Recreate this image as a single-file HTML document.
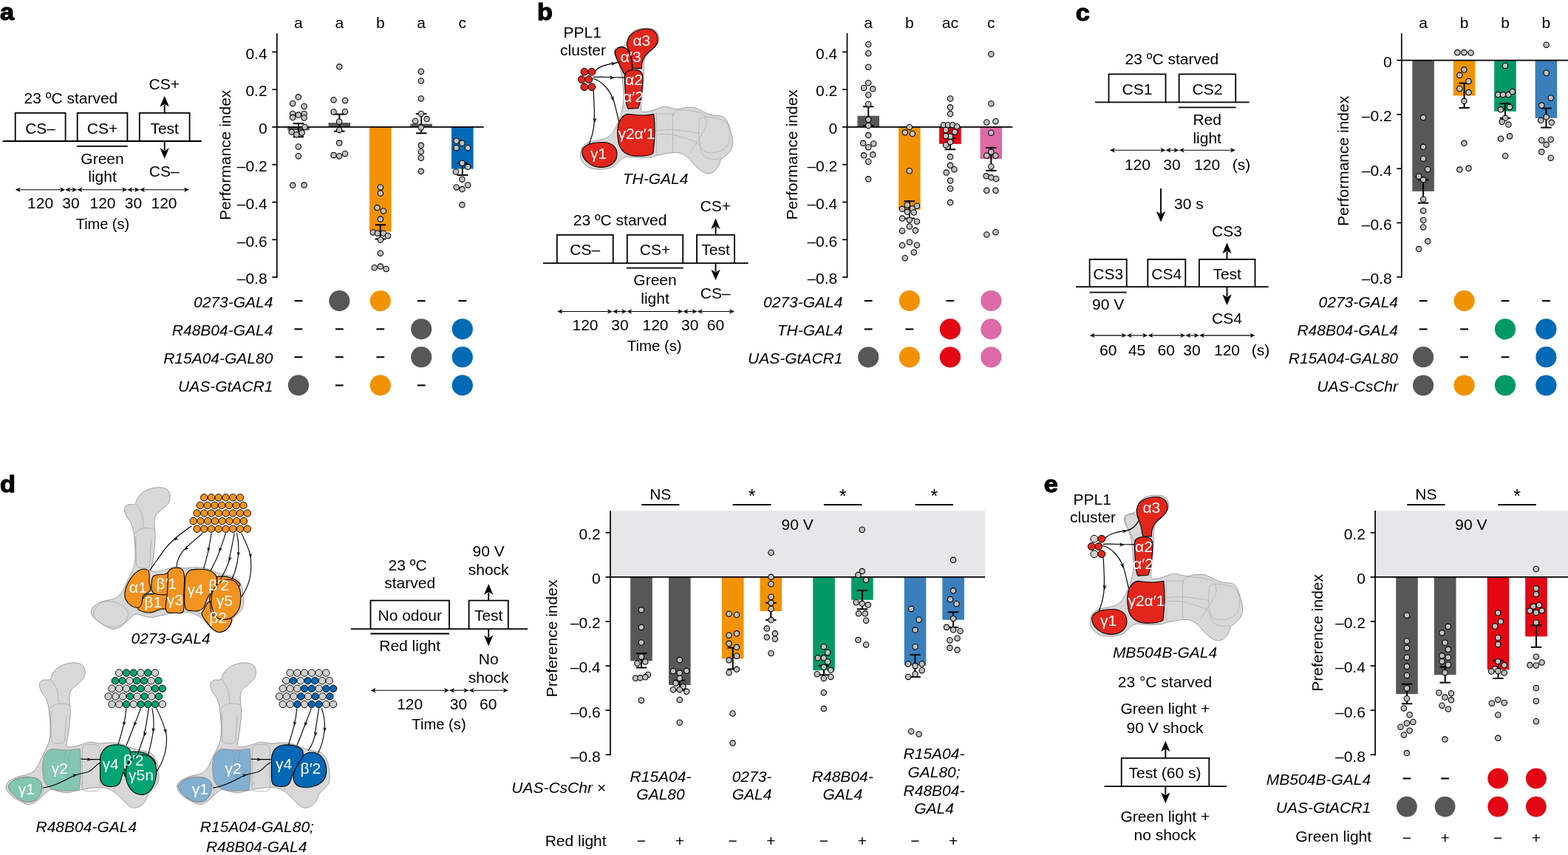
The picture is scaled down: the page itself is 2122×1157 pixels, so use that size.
<!DOCTYPE html>
<html><head><meta charset="utf-8"><title>Figure</title>
<style>
html,body{margin:0;padding:0;background:#fff;}
body{width:2122px;height:1157px;overflow:hidden;}
svg{display:block;}
svg{font-family:'Liberation Sans', Arial, Helvetica, sans-serif;font-size:21px;}
</style></head><body>
<svg width="2122" height="1157" viewBox="0 0 2122 1157">
<rect width="2122" height="1157" fill="#fff"/>
<text transform="translate(0,27.4) scale(1.07,1)" font-size="32" font-weight="bold" stroke="#000" stroke-width="1.25" stroke-linejoin="round">a</text>
<text transform="translate(727,27.4) scale(1.07,1)" font-size="32" font-weight="bold" stroke="#000" stroke-width="1.25" stroke-linejoin="round">b</text>
<text transform="translate(1455.8,27.6) scale(1.07,1)" font-size="32" font-weight="bold" stroke="#000" stroke-width="1.25" stroke-linejoin="round">c</text>
<text transform="translate(0.1,665.6) scale(1.07,1)" font-size="32" font-weight="bold" stroke="#000" stroke-width="1.25" stroke-linejoin="round">d</text>
<text transform="translate(1412.8,666) scale(1.07,1)" font-size="32" font-weight="bold" stroke="#000" stroke-width="1.25" stroke-linejoin="round">e</text>
<line x1="3.7" y1="191" x2="272.8" y2="191" stroke="#000" stroke-width="1.8"/>
<path d="M20.7,191 V152.8 H88.6 V191" fill="none" stroke="#000" stroke-width="1.8"/>
<path d="M104.7,191 V152.8 H172.4 V191" fill="none" stroke="#000" stroke-width="1.8"/>
<path d="M188.8,191 V152.8 H256.6 V191" fill="none" stroke="#000" stroke-width="1.8"/>
<line x1="104" y1="197.8" x2="172.8" y2="197.8" stroke="#000" stroke-width="1.8"/>
<text x="95.9" y="139.5" text-anchor="middle">23 ºC starved</text>
<text x="54.6" y="180.6" text-anchor="middle">CS–</text>
<text x="138.5" y="180.6" text-anchor="middle">CS+</text>
<text x="222.7" y="180.6" text-anchor="middle">Test</text>
<text x="222.3" y="120.9" text-anchor="middle">CS+</text>
<line x1="222.7" y1="152.8" x2="222.7" y2="141.4" stroke="#000" stroke-width="1.9"/>
<path d="M222.7,129.8 L216.5,144.3 L222.7,140.68 L228.9,144.3 Z" fill="#000"/>
<line x1="222.7" y1="191" x2="222.7" y2="203.2" stroke="#000" stroke-width="1.9"/>
<path d="M222.7,214.8 L216.5,200.3 L222.7,203.93 L228.9,200.3 Z" fill="#000"/>
<text x="222.3" y="239.3" text-anchor="middle">CS–</text>
<text x="138.5" y="221.7" text-anchor="middle">Green</text>
<text x="138.5" y="246" text-anchor="middle">light</text>
<line x1="23.7" y1="256.7" x2="85.2" y2="256.7" stroke="#000" stroke-width="1.1"/>
<path d="M20.7,256.7 L27.9,253.5 L25.74,256.7 L27.9,259.9 Z" fill="#000"/>
<path d="M88.2,256.7 L81,253.5 L83.16,256.7 L81,259.9 Z" fill="#000"/>
<line x1="91.2" y1="256.7" x2="101.4" y2="256.7" stroke="#000" stroke-width="1.1"/>
<path d="M88.2,256.7 L95.4,253.5 L93.24,256.7 L95.4,259.9 Z" fill="#000"/>
<path d="M104.4,256.7 L97.2,253.5 L99.36,256.7 L97.2,259.9 Z" fill="#000"/>
<line x1="107.4" y1="256.7" x2="169.2" y2="256.7" stroke="#000" stroke-width="1.1"/>
<path d="M104.4,256.7 L111.6,253.5 L109.44,256.7 L111.6,259.9 Z" fill="#000"/>
<path d="M172.2,256.7 L165,253.5 L167.16,256.7 L165,259.9 Z" fill="#000"/>
<line x1="175.2" y1="256.7" x2="186" y2="256.7" stroke="#000" stroke-width="1.1"/>
<path d="M172.2,256.7 L179.4,253.5 L177.24,256.7 L179.4,259.9 Z" fill="#000"/>
<path d="M189,256.7 L181.8,253.5 L183.96,256.7 L181.8,259.9 Z" fill="#000"/>
<line x1="192" y1="256.7" x2="253" y2="256.7" stroke="#000" stroke-width="1.1"/>
<path d="M189,256.7 L196.2,253.5 L194.04,256.7 L196.2,259.9 Z" fill="#000"/>
<path d="M256,256.7 L248.8,253.5 L250.96,256.7 L248.8,259.9 Z" fill="#000"/>
<text x="54.6" y="282.2" text-anchor="middle">120</text>
<text x="96" y="282.2" text-anchor="middle">30</text>
<text x="139" y="282.2" text-anchor="middle">120</text>
<text x="180.5" y="282.2" text-anchor="middle">30</text>
<text x="222" y="282.2" text-anchor="middle">120</text>
<text x="138.9" y="309.8" text-anchor="middle" textLength="72.4" lengthAdjust="spacingAndGlyphs">Time (s)</text>
<rect x="389.1" y="171.9" width="29.6" height="4.3" fill="#575756"/>
<rect x="444.5" y="166.1" width="29.6" height="5.8" fill="#575756"/>
<rect x="500" y="171.9" width="29.6" height="141.5" fill="#f29200"/>
<rect x="555.4" y="167.5" width="29.6" height="4.4" fill="#575756"/>
<rect x="611" y="171.9" width="29.6" height="56.6" fill="#006ab4"/>
<line x1="374.8" y1="171.9" x2="654.7" y2="171.9" stroke="#000" stroke-width="1.8"/>
<line x1="374.8" y1="45" x2="374.8" y2="375.95" stroke="#000" stroke-width="1.7"/>
<line x1="368.3" y1="70.3" x2="374.8" y2="70.3" stroke="#000" stroke-width="1.7"/>
<text x="361.6" y="79.6" text-anchor="end">0.4</text>
<line x1="368.3" y1="121.1" x2="374.8" y2="121.1" stroke="#000" stroke-width="1.7"/>
<text x="361.6" y="130.4" text-anchor="end">0.2</text>
<line x1="368.3" y1="171.9" x2="374.8" y2="171.9" stroke="#000" stroke-width="1.7"/>
<text x="361.6" y="181.2" text-anchor="end">0</text>
<line x1="368.3" y1="222.7" x2="374.8" y2="222.7" stroke="#000" stroke-width="1.7"/>
<text x="361.6" y="232" text-anchor="end">–0.2</text>
<line x1="368.3" y1="273.5" x2="374.8" y2="273.5" stroke="#000" stroke-width="1.7"/>
<text x="361.6" y="282.8" text-anchor="end">–0.4</text>
<line x1="368.3" y1="324.3" x2="374.8" y2="324.3" stroke="#000" stroke-width="1.7"/>
<text x="361.6" y="333.6" text-anchor="end">–0.6</text>
<line x1="368.3" y1="375.1" x2="374.8" y2="375.1" stroke="#000" stroke-width="1.7"/>
<text x="361.6" y="384.4" text-anchor="end">–0.8</text>
<text transform="translate(312,209.8) rotate(-90)" text-anchor="middle">Performance index</text>
<text x="403.9" y="37.8" text-anchor="middle">a</text>
<text x="459.3" y="37.8" text-anchor="middle">a</text>
<text x="514.8" y="37.8" text-anchor="middle">b</text>
<text x="570.2" y="37.8" text-anchor="middle">a</text>
<text x="625.8" y="37.8" text-anchor="middle">c</text>
<line x1="403.9" y1="167.1" x2="403.9" y2="185.2" stroke="#000" stroke-width="2"/>
<line x1="396.65" y1="167.1" x2="411.15" y2="167.1" stroke="#000" stroke-width="2"/>
<line x1="396.65" y1="185.2" x2="411.15" y2="185.2" stroke="#000" stroke-width="2"/>
<line x1="459.3" y1="154.6" x2="459.3" y2="177.6" stroke="#000" stroke-width="2"/>
<line x1="452.05" y1="154.6" x2="466.55" y2="154.6" stroke="#000" stroke-width="2"/>
<line x1="452.05" y1="177.6" x2="466.55" y2="177.6" stroke="#000" stroke-width="2"/>
<line x1="514.8" y1="304.3" x2="514.8" y2="323.5" stroke="#000" stroke-width="2"/>
<line x1="507.55" y1="304.3" x2="522.05" y2="304.3" stroke="#000" stroke-width="2"/>
<line x1="507.55" y1="323.5" x2="522.05" y2="323.5" stroke="#000" stroke-width="2"/>
<line x1="570.2" y1="154" x2="570.2" y2="180.3" stroke="#000" stroke-width="2"/>
<line x1="562.95" y1="154" x2="577.45" y2="154" stroke="#000" stroke-width="2"/>
<line x1="562.95" y1="180.3" x2="577.45" y2="180.3" stroke="#000" stroke-width="2"/>
<line x1="625.8" y1="220.7" x2="625.8" y2="236.9" stroke="#000" stroke-width="2"/>
<line x1="618.55" y1="220.7" x2="633.05" y2="220.7" stroke="#000" stroke-width="2"/>
<line x1="618.55" y1="236.9" x2="633.05" y2="236.9" stroke="#000" stroke-width="2"/>
<circle cx="403.79" cy="131.29" r="3.7" fill="#c0c0c0" stroke="#000" stroke-width="1.1"/>
<circle cx="396.15" cy="139.95" r="3.7" fill="#c0c0c0" stroke="#000" stroke-width="1.1"/>
<circle cx="411.57" cy="143.92" r="3.7" fill="#c0c0c0" stroke="#000" stroke-width="1.1"/>
<circle cx="396.15" cy="153.91" r="3.7" fill="#c0c0c0" stroke="#000" stroke-width="1.1"/>
<circle cx="403.79" cy="155.53" r="3.7" fill="#c0c0c0" stroke="#000" stroke-width="1.1"/>
<circle cx="411.57" cy="153.91" r="3.7" fill="#c0c0c0" stroke="#000" stroke-width="1.1"/>
<circle cx="396.15" cy="159.05" r="3.7" fill="#c0c0c0" stroke="#000" stroke-width="1.1"/>
<circle cx="411.57" cy="159.49" r="3.7" fill="#c0c0c0" stroke="#000" stroke-width="1.1"/>
<circle cx="412.6" cy="171.98" r="3.7" fill="#c0c0c0" stroke="#000" stroke-width="1.1"/>
<circle cx="394.68" cy="178.59" r="3.7" fill="#c0c0c0" stroke="#000" stroke-width="1.1"/>
<circle cx="401.29" cy="182.26" r="3.7" fill="#c0c0c0" stroke="#000" stroke-width="1.1"/>
<circle cx="408.63" cy="179.62" r="3.7" fill="#c0c0c0" stroke="#000" stroke-width="1.1"/>
<circle cx="403.79" cy="198.42" r="3.7" fill="#c0c0c0" stroke="#000" stroke-width="1.1"/>
<circle cx="403.79" cy="211.2" r="3.7" fill="#c0c0c0" stroke="#000" stroke-width="1.1"/>
<circle cx="396.15" cy="250.86" r="3.7" fill="#c0c0c0" stroke="#000" stroke-width="1.1"/>
<circle cx="411.57" cy="250.56" r="3.7" fill="#c0c0c0" stroke="#000" stroke-width="1.1"/>
<circle cx="451.53" cy="135.25" r="3.7" fill="#c0c0c0" stroke="#000" stroke-width="1.1"/>
<circle cx="466.95" cy="135.99" r="3.7" fill="#c0c0c0" stroke="#000" stroke-width="1.1"/>
<circle cx="451.53" cy="151.41" r="3.7" fill="#c0c0c0" stroke="#000" stroke-width="1.1"/>
<circle cx="466.95" cy="150.97" r="3.7" fill="#c0c0c0" stroke="#000" stroke-width="1.1"/>
<circle cx="459.16" cy="164.63" r="3.7" fill="#c0c0c0" stroke="#000" stroke-width="1.1"/>
<circle cx="459.16" cy="175.94" r="3.7" fill="#c0c0c0" stroke="#000" stroke-width="1.1"/>
<circle cx="459.16" cy="193.57" r="3.7" fill="#c0c0c0" stroke="#000" stroke-width="1.1"/>
<circle cx="451.53" cy="209.88" r="3.7" fill="#c0c0c0" stroke="#000" stroke-width="1.1"/>
<circle cx="459.16" cy="211.2" r="3.7" fill="#c0c0c0" stroke="#000" stroke-width="1.1"/>
<circle cx="466.95" cy="207.97" r="3.7" fill="#c0c0c0" stroke="#000" stroke-width="1.1"/>
<circle cx="459.28" cy="90.31" r="3.7" fill="#c0c0c0" stroke="#000" stroke-width="1.1"/>
<circle cx="514.88" cy="253.41" r="3.7" fill="#c0c0c0" stroke="#000" stroke-width="1.1"/>
<circle cx="514.88" cy="261.5" r="3.7" fill="#c0c0c0" stroke="#000" stroke-width="1.1"/>
<circle cx="510.5" cy="281.04" r="3.7" fill="#c0c0c0" stroke="#000" stroke-width="1.1"/>
<circle cx="518.92" cy="285.43" r="3.7" fill="#c0c0c0" stroke="#000" stroke-width="1.1"/>
<circle cx="514.88" cy="296.55" r="3.7" fill="#c0c0c0" stroke="#000" stroke-width="1.1"/>
<circle cx="504.77" cy="314.41" r="3.7" fill="#c0c0c0" stroke="#000" stroke-width="1.1"/>
<circle cx="510.83" cy="315.75" r="3.7" fill="#c0c0c0" stroke="#000" stroke-width="1.1"/>
<circle cx="518.92" cy="315.75" r="3.7" fill="#c0c0c0" stroke="#000" stroke-width="1.1"/>
<circle cx="524.99" cy="319.12" r="3.7" fill="#c0c0c0" stroke="#000" stroke-width="1.1"/>
<circle cx="514.88" cy="324.52" r="3.7" fill="#c0c0c0" stroke="#000" stroke-width="1.1"/>
<circle cx="514.88" cy="342.71" r="3.7" fill="#c0c0c0" stroke="#000" stroke-width="1.1"/>
<circle cx="506.79" cy="362.26" r="3.7" fill="#c0c0c0" stroke="#000" stroke-width="1.1"/>
<circle cx="514.88" cy="360.57" r="3.7" fill="#c0c0c0" stroke="#000" stroke-width="1.1"/>
<circle cx="522.63" cy="363.94" r="3.7" fill="#c0c0c0" stroke="#000" stroke-width="1.1"/>
<circle cx="569.81" cy="96.71" r="3.7" fill="#c0c0c0" stroke="#000" stroke-width="1.1"/>
<circle cx="569.81" cy="109.52" r="3.7" fill="#c0c0c0" stroke="#000" stroke-width="1.1"/>
<circle cx="569.81" cy="133.45" r="3.7" fill="#c0c0c0" stroke="#000" stroke-width="1.1"/>
<circle cx="569.81" cy="154" r="3.7" fill="#c0c0c0" stroke="#000" stroke-width="1.1"/>
<circle cx="562.06" cy="163.77" r="3.7" fill="#c0c0c0" stroke="#000" stroke-width="1.1"/>
<circle cx="577.56" cy="161.08" r="3.7" fill="#c0c0c0" stroke="#000" stroke-width="1.1"/>
<circle cx="569.81" cy="172.54" r="3.7" fill="#c0c0c0" stroke="#000" stroke-width="1.1"/>
<circle cx="569.81" cy="196.8" r="3.7" fill="#c0c0c0" stroke="#000" stroke-width="1.1"/>
<circle cx="569.81" cy="205.22" r="3.7" fill="#c0c0c0" stroke="#000" stroke-width="1.1"/>
<circle cx="569.81" cy="213.65" r="3.7" fill="#c0c0c0" stroke="#000" stroke-width="1.1"/>
<circle cx="569.81" cy="231.84" r="3.7" fill="#c0c0c0" stroke="#000" stroke-width="1.1"/>
<circle cx="617.66" cy="190.73" r="3.7" fill="#c0c0c0" stroke="#000" stroke-width="1.1"/>
<circle cx="625.41" cy="193.77" r="3.7" fill="#c0c0c0" stroke="#000" stroke-width="1.1"/>
<circle cx="617.66" cy="200.17" r="3.7" fill="#c0c0c0" stroke="#000" stroke-width="1.1"/>
<circle cx="633.16" cy="200.17" r="3.7" fill="#c0c0c0" stroke="#000" stroke-width="1.1"/>
<circle cx="625.41" cy="220.72" r="3.7" fill="#c0c0c0" stroke="#000" stroke-width="1.1"/>
<circle cx="633.16" cy="225.78" r="3.7" fill="#c0c0c0" stroke="#000" stroke-width="1.1"/>
<circle cx="616.98" cy="232.52" r="3.7" fill="#c0c0c0" stroke="#000" stroke-width="1.1"/>
<circle cx="625.41" cy="242.63" r="3.7" fill="#c0c0c0" stroke="#000" stroke-width="1.1"/>
<circle cx="633.16" cy="250.38" r="3.7" fill="#c0c0c0" stroke="#000" stroke-width="1.1"/>
<circle cx="617.66" cy="253.41" r="3.7" fill="#c0c0c0" stroke="#000" stroke-width="1.1"/>
<circle cx="625.41" cy="256.11" r="3.7" fill="#c0c0c0" stroke="#000" stroke-width="1.1"/>
<circle cx="625.41" cy="277.34" r="3.7" fill="#c0c0c0" stroke="#000" stroke-width="1.1"/>
<text x="369.4" y="415.7" text-anchor="end" font-style="italic">0273-GAL4</text>
<rect x="398.5" y="406.1" width="10.8" height="2.1" fill="#000"/>
<circle cx="459.3" cy="407.1" r="14.1" fill="#575756"/>
<circle cx="514.8" cy="407.1" r="14.1" fill="#f29200"/>
<rect x="564.8" y="406.1" width="10.8" height="2.1" fill="#000"/>
<rect x="620.4" y="406.1" width="10.8" height="2.1" fill="#000"/>
<text x="369.4" y="453.9" text-anchor="end" font-style="italic">R48B04-GAL4</text>
<rect x="398.5" y="444.3" width="10.8" height="2.1" fill="#000"/>
<rect x="453.9" y="444.3" width="10.8" height="2.1" fill="#000"/>
<rect x="509.4" y="444.3" width="10.8" height="2.1" fill="#000"/>
<circle cx="570.2" cy="445.3" r="14.1" fill="#575756"/>
<circle cx="625.8" cy="445.3" r="14.1" fill="#006ab4"/>
<text x="369.4" y="491.8" text-anchor="end" font-style="italic">R15A04-GAL80</text>
<rect x="398.5" y="482.2" width="10.8" height="2.1" fill="#000"/>
<rect x="453.9" y="482.2" width="10.8" height="2.1" fill="#000"/>
<rect x="509.4" y="482.2" width="10.8" height="2.1" fill="#000"/>
<circle cx="570.2" cy="483.2" r="14.1" fill="#575756"/>
<circle cx="625.8" cy="483.2" r="14.1" fill="#006ab4"/>
<text x="369.4" y="530" text-anchor="end" font-style="italic">UAS-GtACR1</text>
<circle cx="403.9" cy="521.4" r="14.1" fill="#575756"/>
<rect x="453.9" y="520.4" width="10.8" height="2.1" fill="#000"/>
<circle cx="514.8" cy="521.4" r="14.1" fill="#f29200"/>
<rect x="564.8" y="520.4" width="10.8" height="2.1" fill="#000"/>
<circle cx="625.8" cy="521.4" r="14.1" fill="#006ab4"/>
<g transform="translate(770,30) scale(0.18153)">
<path d="M432,150 C437.33,137.5 440.67,110.33 452,95 C463.33,79.67 480.33,66.33 500,58 C519.67,49.67 547.5,45.5 570,45 C592.5,44.5 618.67,45.83 635,55 C651.33,64.17 663.17,84.17 668,100 C672.83,115.83 669.5,135 664,150 C658.5,165 646.5,177.5 635,190 C623.5,202.5 605.83,213.33 595,225 C584.17,236.67 576.17,245.83 570,260 C563.83,274.17 560,291.67 558,310 C556,328.33 558.33,348.33 558,370 C557.67,391.67 557.33,416.67 556,440 C554.67,463.33 552.17,488.33 550,510 C547.83,531.67 545,550 543,570 C541,590 537.67,613.67 538,630 C538.33,646.33 533.67,662.5 545,668 C556.33,673.5 587.17,666.83 606,663 C624.83,659.17 640.5,650.67 658,645 C675.5,639.33 693.5,629.83 711,629 C728.5,628.17 745.67,636.83 763,640 C780.33,643.17 797.5,648.5 815,648 C832.5,647.5 848.67,638.83 868,637 C887.33,635.17 913.5,634.33 931,637 C948.5,639.67 957.33,646 973,653 C988.67,660 1007.67,672 1025,679 C1042.33,686 1059.5,691.5 1077,695 C1094.5,698.5 1116,697 1130,700 C1144,703 1152.33,705.5 1161,713 C1169.67,720.5 1175,730.17 1182,745 C1189,759.83 1196.83,782 1203,802 C1209.17,822 1216.33,845.67 1219,865 C1221.67,884.33 1222.5,901.33 1219,918 C1215.5,934.67 1207.67,951.17 1198,965 C1188.33,978.83 1172,991 1161,1001 C1150,1011 1138.5,1015.5 1132,1025 C1125.5,1034.5 1127.67,1046.17 1122,1058 C1116.33,1069.83 1107.17,1085.33 1098,1096 C1088.83,1106.67 1079.17,1116.83 1067,1122 C1054.83,1127.17 1039,1129.67 1025,1127 C1011,1124.33 997,1115.5 983,1106 C969,1096.5 955,1084 941,1070 C927,1056 913,1035.67 899,1022 C885,1008.33 872.67,996.33 857,988 C841.33,979.67 825,973.83 805,972 C785,970.17 761.5,973.5 737,977 C712.5,980.5 679.83,988 658,993 C636.17,998 625.67,1004.17 606,1007 C586.33,1009.83 562.67,1010.17 540,1010 C517.33,1009.83 488.33,1007 470,1006 C451.67,1005 442.5,1002.17 430,1004 C417.5,1005.83 405.83,1009.83 395,1017 C384.17,1024.17 377.5,1036.17 365,1047 C352.5,1057.83 340.83,1073.67 320,1082 C299.17,1090.33 266.67,1096.17 240,1097 C213.33,1097.83 182.5,1095.33 160,1087 C137.5,1078.67 117.5,1063.17 105,1047 C92.5,1030.83 85.83,1009.5 85,990 C84.17,970.5 89.17,945.83 100,930 C110.83,914.17 128.33,903.67 150,895 C171.67,886.33 207.5,883.83 230,878 C252.5,872.17 269.17,868.83 285,860 C300.83,851.17 313.33,840 325,825 C336.67,810 345.83,789.17 355,770 C364.17,750.83 372.83,730 380,710 C387.17,690 393.5,671.67 398,650 C402.5,628.33 405.83,605 407,580 C408.17,555 406.5,526.67 405,500 C403.5,473.33 401.33,445 398,420 C394.67,395 391,371.67 385,350 C379,328.33 369.5,308.33 362,290 C354.5,271.67 342.83,255.33 340,240 C337.17,224.67 336.67,208 345,198 C353.33,188 377.5,184.67 390,180 C402.5,175.33 413,175 420,170 C427,165 426.67,162.5 432,150 Z" fill="#d8d8d8" stroke="#9b9b9b" stroke-width="5.5"/>
<path d="M653,684 L773,684" fill="none" stroke="#b0b0b0" stroke-width="4.5"/>
<path d="M773,676 C775,760 775,880 773,970" fill="none" stroke="#b0b0b0" stroke-width="4.5"/>
<path d="M653,672 C650,760 650,900 655,988" fill="none" stroke="#b0b0b0" stroke-width="4.5"/>
<path d="M779,700 C780.83,694.17 781.5,672.5 790,665 C798.5,657.5 808.33,655.5 830,655 C851.67,654.5 893.33,657.83 920,662 C946.67,666.17 974.33,672.33 990,680 C1005.67,687.67 1008.17,694.67 1014,708 C1019.83,721.33 1026.67,742.5 1025,760 C1023.33,777.5 1012.83,795.5 1004,813 C995.17,830.5 982.5,847.67 972,865 C961.5,882.33 952.17,899.17 941,917 C929.83,934.83 911,962.83 905,972" fill="none" stroke="#b0b0b0" stroke-width="4.5"/>
<path d="M972.7,723.8 C981.42,721.17 998.78,708 1025,708 C1051.22,708 1103.83,715.07 1130,723.8 C1156.17,732.53 1170.67,741.2 1182,760.4 C1193.33,779.6 1198,812.8 1198,839 C1198,865.2 1193.33,897.52 1182,917.6 C1170.67,937.68 1151.83,949.93 1130,959.5 C1108.17,969.07 1073.73,976.75 1051,975 C1028.27,973.25 1006.65,962.93 993.6,949 C980.55,935.07 977.05,914.1 972.7,891.4 C968.35,868.7 967.5,840.73 967.5,812.8 C967.5,784.87 971.83,738.63 972.7,723.8" fill="none" stroke="#b0b0b0" stroke-width="4.5"/>
<path d="M653,807.6 C671.33,806.67 727.17,801.13 763,802 C798.83,802.87 833.05,808.38 868,812.8 C902.95,817.22 955.25,825.88 972.7,828.5" fill="none" stroke="#b0b0b0" stroke-width="4.5"/>
<path d="M653,836.4 C662.67,835.97 690,833.37 711,833.8 C732,834.23 752.83,833.8 779,839 C805.17,844.2 840.08,856.27 868,865 C895.92,873.73 933.42,887 946.5,891.4" fill="none" stroke="#b0b0b0" stroke-width="4.5"/>
<path d="M946.5,891.4 C950.87,895.77 963.12,900.17 972.7,917.6 C982.28,935.03 986.62,978.6 1004,996 C1021.38,1013.4 1056,1018.5 1077,1022 C1098,1025.5 1121.17,1017.83 1130,1017" fill="none" stroke="#b0b0b0" stroke-width="4.5"/>
<path d="M432,165 C435,95 495,55 570,50 C640,48 668,90 660,148 C652,190 595,215 568,250 C548,280 540,310 542,345 L476,345 C472,300 465,260 450,220 C440,200 432,185 432,165 Z" fill="#e2261c" stroke="#000" stroke-width="6"/>
<path d="M345,240 C335,200 375,178 410,188 C445,200 462,250 468,300 L474,368 C450,375 430,380 410,385 C390,340 360,290 345,240 Z" fill="#e2261c" stroke="#000" stroke-width="6"/>
<path d="M415,400 C418,368 450,355 490,355 C530,353 552,375 550,420 C548,470 545,520 538,560 C530,600 522,630 515,642 L440,645 C425,610 420,570 420,530 C418,480 414,440 415,400 Z" fill="#e2261c" stroke="#000" stroke-width="6"/>
<path d="M362,810 C365,740 395,692 440,685 C490,690 540,700 590,692 L632,685 C642,760 642,860 628,975 C610,995 560,1000 500,998 C430,995 385,960 370,900 C364,870 361,840 362,810 Z" fill="#e2261c" stroke="#000" stroke-width="6"/>
<path d="M98,960 C105,915 175,895 250,895 C325,895 362,935 357,995 C350,1055 295,1085 232,1082 C155,1078 92,1015 98,960 Z" fill="#e2261c" stroke="#000" stroke-width="6"/>
<path d="M195,365 C230,320 300,312 378,298" fill="none" stroke="#000" stroke-width="6.5"/>
<path d="M352,304 L317.01,324.39 L325.06,308.75 L312.15,296.81 Z" fill="#000"/>
<path d="M180,410 C250,405 330,414 415,412" fill="none" stroke="#000" stroke-width="6.5"/>
<path d="M340,414 L301.53,426.67 L312.66,413.05 L302.51,398.68 Z" fill="#000"/>
<path d="M178,420 C255,440 315,520 338,600 C352,650 362,700 372,742" fill="none" stroke="#000" stroke-width="6.5"/>
<path d="M332,590 L306.94,558.19 L323.55,563.98 L333.57,549.53 Z" fill="#000"/>
<path d="M182,505 C188,600 195,700 185,780 C175,850 160,880 150,910" fill="none" stroke="#000" stroke-width="6.5"/>
<path d="M190,752 L179.37,712.92 L192.38,724.74 L207.26,715.36 Z" fill="#000"/>
<circle cx="115" cy="370" r="27" fill="#e2261c" stroke="#000" stroke-width="5.5"/>
<circle cx="170" cy="370" r="27" fill="#e2261c" stroke="#000" stroke-width="5.5"/>
<circle cx="95" cy="427" r="27" fill="#e2261c" stroke="#000" stroke-width="5.5"/>
<circle cx="148" cy="427" r="27" fill="#e2261c" stroke="#000" stroke-width="5.5"/>
<circle cx="115" cy="483" r="27" fill="#e2261c" stroke="#000" stroke-width="5.5"/>
<circle cx="170" cy="483" r="27" fill="#e2261c" stroke="#000" stroke-width="5.5"/>
</g>
<text x="868.3" y="62.3" text-anchor="middle" fill="#fff">α3</text>
<text x="853.7" y="83.6" text-anchor="middle" fill="#fff">α′3</text>
<text x="858" y="115.3" text-anchor="middle" fill="#fff">α2</text>
<text x="857" y="138" text-anchor="middle" fill="#fff">α′2</text>
<text x="861.4" y="188" text-anchor="middle" fill="#fff">γ2α′1</text>
<text x="810" y="215.2" text-anchor="middle" fill="#fff">γ1</text>
<text x="788.3" y="51.4" text-anchor="middle">PPL1</text>
<text x="789" y="75.2" text-anchor="middle">cluster</text>
<text x="887" y="249.4" text-anchor="middle" font-style="italic">TH-GAL4</text>
<line x1="734.9" y1="356.1" x2="1012.6" y2="356.1" stroke="#000" stroke-width="1.8"/>
<path d="M753.8,356.1 V317.9 H829.7 V356.1" fill="none" stroke="#000" stroke-width="1.8"/>
<path d="M848.8,356.1 V317.9 H924.2 V356.1" fill="none" stroke="#000" stroke-width="1.8"/>
<path d="M943,356.1 V317.9 H994 V356.1" fill="none" stroke="#000" stroke-width="1.8"/>
<line x1="847.8" y1="362.6" x2="924.8" y2="362.6" stroke="#000" stroke-width="1.8"/>
<text x="839.1" y="304.8" text-anchor="middle">23 ºC starved</text>
<text x="968.3" y="285.5" text-anchor="middle">CS+</text>
<line x1="968.5" y1="317.9" x2="968.5" y2="307" stroke="#000" stroke-width="1.9"/>
<path d="M968.5,295.4 L962.3,309.9 L968.5,306.27 L974.7,309.9 Z" fill="#000"/>
<text x="791.8" y="345.1" text-anchor="middle">CS–</text>
<text x="886.5" y="345.1" text-anchor="middle">CS+</text>
<text x="968.5" y="345.1" text-anchor="middle">Test</text>
<line x1="968.5" y1="356.1" x2="968.5" y2="367.7" stroke="#000" stroke-width="1.9"/>
<path d="M968.5,379.3 L962.3,364.8 L968.5,368.43 L974.7,364.8 Z" fill="#000"/>
<text x="886.5" y="385.9" text-anchor="middle">Green</text>
<text x="886.5" y="411.2" text-anchor="middle">light</text>
<text x="968.3" y="403.8" text-anchor="middle">CS–</text>
<line x1="757.2" y1="421.5" x2="826" y2="421.5" stroke="#000" stroke-width="1.1"/>
<path d="M754.2,421.5 L761.4,418.3 L759.24,421.5 L761.4,424.7 Z" fill="#000"/>
<path d="M829,421.5 L821.8,418.3 L823.96,421.5 L821.8,424.7 Z" fill="#000"/>
<line x1="832" y1="421.5" x2="845.2" y2="421.5" stroke="#000" stroke-width="1.1"/>
<path d="M829,421.5 L836.2,418.3 L834.04,421.5 L836.2,424.7 Z" fill="#000"/>
<path d="M848.2,421.5 L841,418.3 L843.16,421.5 L841,424.7 Z" fill="#000"/>
<line x1="851.2" y1="421.5" x2="921.2" y2="421.5" stroke="#000" stroke-width="1.1"/>
<path d="M848.2,421.5 L855.4,418.3 L853.24,421.5 L855.4,424.7 Z" fill="#000"/>
<path d="M924.2,421.5 L917,418.3 L919.16,421.5 L917,424.7 Z" fill="#000"/>
<line x1="927.2" y1="421.5" x2="940.7" y2="421.5" stroke="#000" stroke-width="1.1"/>
<path d="M924.2,421.5 L931.4,418.3 L929.24,421.5 L931.4,424.7 Z" fill="#000"/>
<path d="M943.7,421.5 L936.5,418.3 L938.66,421.5 L936.5,424.7 Z" fill="#000"/>
<line x1="946.7" y1="421.5" x2="991" y2="421.5" stroke="#000" stroke-width="1.1"/>
<path d="M943.7,421.5 L950.9,418.3 L948.74,421.5 L950.9,424.7 Z" fill="#000"/>
<path d="M994,421.5 L986.8,418.3 L988.96,421.5 L986.8,424.7 Z" fill="#000"/>
<text x="792" y="447" text-anchor="middle">120</text>
<text x="838.9" y="447" text-anchor="middle">30</text>
<text x="887" y="447" text-anchor="middle">120</text>
<text x="933.7" y="447" text-anchor="middle">30</text>
<text x="968.5" y="447" text-anchor="middle">60</text>
<text x="885.7" y="474.8" text-anchor="middle" textLength="73.9" lengthAdjust="spacingAndGlyphs">Time (s)</text>
<rect x="1160.4" y="156.7" width="29.6" height="15.2" fill="#575756"/>
<rect x="1216" y="171.9" width="29.6" height="111.9" fill="#f29200"/>
<rect x="1271.1" y="171.9" width="29.6" height="22.9" fill="#e30613"/>
<rect x="1326.5" y="171.9" width="29.6" height="43.1" fill="#dc6ba6"/>
<line x1="1146.5" y1="171.9" x2="1370.3" y2="171.9" stroke="#000" stroke-width="1.8"/>
<line x1="1146.5" y1="45" x2="1146.5" y2="375.95" stroke="#000" stroke-width="1.7"/>
<line x1="1140" y1="70.3" x2="1146.5" y2="70.3" stroke="#000" stroke-width="1.7"/>
<text x="1133.3" y="79.6" text-anchor="end">0.4</text>
<line x1="1140" y1="121.1" x2="1146.5" y2="121.1" stroke="#000" stroke-width="1.7"/>
<text x="1133.3" y="130.4" text-anchor="end">0.2</text>
<line x1="1140" y1="171.9" x2="1146.5" y2="171.9" stroke="#000" stroke-width="1.7"/>
<text x="1133.3" y="181.2" text-anchor="end">0</text>
<line x1="1140" y1="222.7" x2="1146.5" y2="222.7" stroke="#000" stroke-width="1.7"/>
<text x="1133.3" y="232" text-anchor="end">–0.2</text>
<line x1="1140" y1="273.5" x2="1146.5" y2="273.5" stroke="#000" stroke-width="1.7"/>
<text x="1133.3" y="282.8" text-anchor="end">–0.4</text>
<line x1="1140" y1="324.3" x2="1146.5" y2="324.3" stroke="#000" stroke-width="1.7"/>
<text x="1133.3" y="333.6" text-anchor="end">–0.6</text>
<line x1="1140" y1="375.1" x2="1146.5" y2="375.1" stroke="#000" stroke-width="1.7"/>
<text x="1133.3" y="384.4" text-anchor="end">–0.8</text>
<text transform="translate(1078.8,209.3) rotate(-90)" text-anchor="middle">Performance index</text>
<text x="1175.2" y="37.8" text-anchor="middle">a</text>
<text x="1230.8" y="37.8" text-anchor="middle">b</text>
<text x="1285.9" y="37.8" text-anchor="middle">ac</text>
<text x="1341.3" y="37.8" text-anchor="middle">c</text>
<line x1="1175.2" y1="144.3" x2="1175.2" y2="170" stroke="#000" stroke-width="2"/>
<line x1="1167.95" y1="144.3" x2="1182.45" y2="144.3" stroke="#000" stroke-width="2"/>
<line x1="1167.95" y1="170" x2="1182.45" y2="170" stroke="#000" stroke-width="2"/>
<line x1="1230.8" y1="272.3" x2="1230.8" y2="295.6" stroke="#000" stroke-width="2"/>
<line x1="1223.55" y1="272.3" x2="1238.05" y2="272.3" stroke="#000" stroke-width="2"/>
<line x1="1223.55" y1="295.6" x2="1238.05" y2="295.6" stroke="#000" stroke-width="2"/>
<line x1="1285.9" y1="187.1" x2="1285.9" y2="202.2" stroke="#000" stroke-width="2"/>
<line x1="1278.65" y1="187.1" x2="1293.15" y2="187.1" stroke="#000" stroke-width="2"/>
<line x1="1278.65" y1="202.2" x2="1293.15" y2="202.2" stroke="#000" stroke-width="2"/>
<line x1="1341.3" y1="199.9" x2="1341.3" y2="230.9" stroke="#000" stroke-width="2"/>
<line x1="1334.05" y1="199.9" x2="1348.55" y2="199.9" stroke="#000" stroke-width="2"/>
<line x1="1334.05" y1="230.9" x2="1348.55" y2="230.9" stroke="#000" stroke-width="2"/>
<circle cx="1175.17" cy="60" r="3.7" fill="#c0c0c0" stroke="#000" stroke-width="1.1"/>
<circle cx="1175.17" cy="72.13" r="3.7" fill="#c0c0c0" stroke="#000" stroke-width="1.1"/>
<circle cx="1175.17" cy="90.67" r="3.7" fill="#c0c0c0" stroke="#000" stroke-width="1.1"/>
<circle cx="1175.17" cy="112.25" r="3.7" fill="#c0c0c0" stroke="#000" stroke-width="1.1"/>
<circle cx="1169.1" cy="118.99" r="3.7" fill="#c0c0c0" stroke="#000" stroke-width="1.1"/>
<circle cx="1181.23" cy="120.34" r="3.7" fill="#c0c0c0" stroke="#000" stroke-width="1.1"/>
<circle cx="1175.17" cy="128.43" r="3.7" fill="#c0c0c0" stroke="#000" stroke-width="1.1"/>
<circle cx="1175.17" cy="140.9" r="3.7" fill="#c0c0c0" stroke="#000" stroke-width="1.1"/>
<circle cx="1175.17" cy="161.8" r="3.7" fill="#c0c0c0" stroke="#000" stroke-width="1.1"/>
<circle cx="1175.17" cy="169.89" r="3.7" fill="#c0c0c0" stroke="#000" stroke-width="1.1"/>
<circle cx="1175.17" cy="183.03" r="3.7" fill="#c0c0c0" stroke="#000" stroke-width="1.1"/>
<circle cx="1168.09" cy="193.82" r="3.7" fill="#c0c0c0" stroke="#000" stroke-width="1.1"/>
<circle cx="1182.25" cy="194.49" r="3.7" fill="#c0c0c0" stroke="#000" stroke-width="1.1"/>
<circle cx="1175.17" cy="199.21" r="3.7" fill="#c0c0c0" stroke="#000" stroke-width="1.1"/>
<circle cx="1169.1" cy="210.33" r="3.7" fill="#c0c0c0" stroke="#000" stroke-width="1.1"/>
<circle cx="1181.23" cy="209.32" r="3.7" fill="#c0c0c0" stroke="#000" stroke-width="1.1"/>
<circle cx="1175.17" cy="218.76" r="3.7" fill="#c0c0c0" stroke="#000" stroke-width="1.1"/>
<circle cx="1175.17" cy="242.36" r="3.7" fill="#c0c0c0" stroke="#000" stroke-width="1.1"/>
<circle cx="1230.78" cy="171.91" r="3.7" fill="#c0c0c0" stroke="#000" stroke-width="1.1"/>
<circle cx="1224.72" cy="179.32" r="3.7" fill="#c0c0c0" stroke="#000" stroke-width="1.1"/>
<circle cx="1234.83" cy="181.01" r="3.7" fill="#c0c0c0" stroke="#000" stroke-width="1.1"/>
<circle cx="1230.78" cy="231.23" r="3.7" fill="#c0c0c0" stroke="#000" stroke-width="1.1"/>
<circle cx="1227.75" cy="277.41" r="3.7" fill="#c0c0c0" stroke="#000" stroke-width="1.1"/>
<circle cx="1234.83" cy="282.13" r="3.7" fill="#c0c0c0" stroke="#000" stroke-width="1.1"/>
<circle cx="1240.9" cy="278.76" r="3.7" fill="#c0c0c0" stroke="#000" stroke-width="1.1"/>
<circle cx="1221.01" cy="282.81" r="3.7" fill="#c0c0c0" stroke="#000" stroke-width="1.1"/>
<circle cx="1227.75" cy="286.85" r="3.7" fill="#c0c0c0" stroke="#000" stroke-width="1.1"/>
<circle cx="1236.85" cy="287.52" r="3.7" fill="#c0c0c0" stroke="#000" stroke-width="1.1"/>
<circle cx="1221.01" cy="295.61" r="3.7" fill="#c0c0c0" stroke="#000" stroke-width="1.1"/>
<circle cx="1230.78" cy="297.64" r="3.7" fill="#c0c0c0" stroke="#000" stroke-width="1.1"/>
<circle cx="1240.9" cy="299.66" r="3.7" fill="#c0c0c0" stroke="#000" stroke-width="1.1"/>
<circle cx="1230.78" cy="306.4" r="3.7" fill="#c0c0c0" stroke="#000" stroke-width="1.1"/>
<circle cx="1221.01" cy="312.47" r="3.7" fill="#c0c0c0" stroke="#000" stroke-width="1.1"/>
<circle cx="1238.87" cy="311.79" r="3.7" fill="#c0c0c0" stroke="#000" stroke-width="1.1"/>
<circle cx="1221.01" cy="332.02" r="3.7" fill="#c0c0c0" stroke="#000" stroke-width="1.1"/>
<circle cx="1230.78" cy="327.64" r="3.7" fill="#c0c0c0" stroke="#000" stroke-width="1.1"/>
<circle cx="1240.9" cy="331.68" r="3.7" fill="#c0c0c0" stroke="#000" stroke-width="1.1"/>
<circle cx="1236.85" cy="341.46" r="3.7" fill="#c0c0c0" stroke="#000" stroke-width="1.1"/>
<circle cx="1224.72" cy="349.21" r="3.7" fill="#c0c0c0" stroke="#000" stroke-width="1.1"/>
<circle cx="1286.06" cy="133.48" r="3.7" fill="#c0c0c0" stroke="#000" stroke-width="1.1"/>
<circle cx="1286.06" cy="145.28" r="3.7" fill="#c0c0c0" stroke="#000" stroke-width="1.1"/>
<circle cx="1286.06" cy="154.04" r="3.7" fill="#c0c0c0" stroke="#000" stroke-width="1.1"/>
<circle cx="1276.96" cy="169.21" r="3.7" fill="#c0c0c0" stroke="#000" stroke-width="1.1"/>
<circle cx="1283.03" cy="169.21" r="3.7" fill="#c0c0c0" stroke="#000" stroke-width="1.1"/>
<circle cx="1289.1" cy="169.21" r="3.7" fill="#c0c0c0" stroke="#000" stroke-width="1.1"/>
<circle cx="1295.17" cy="171.23" r="3.7" fill="#c0c0c0" stroke="#000" stroke-width="1.1"/>
<circle cx="1280" cy="175.95" r="3.7" fill="#c0c0c0" stroke="#000" stroke-width="1.1"/>
<circle cx="1292.13" cy="178.65" r="3.7" fill="#c0c0c0" stroke="#000" stroke-width="1.1"/>
<circle cx="1286.06" cy="184.72" r="3.7" fill="#c0c0c0" stroke="#000" stroke-width="1.1"/>
<circle cx="1280" cy="184.04" r="3.7" fill="#c0c0c0" stroke="#000" stroke-width="1.1"/>
<circle cx="1286.06" cy="192.13" r="3.7" fill="#c0c0c0" stroke="#000" stroke-width="1.1"/>
<circle cx="1280" cy="196.18" r="3.7" fill="#c0c0c0" stroke="#000" stroke-width="1.1"/>
<circle cx="1286.06" cy="212.36" r="3.7" fill="#c0c0c0" stroke="#000" stroke-width="1.1"/>
<circle cx="1286.06" cy="223.82" r="3.7" fill="#c0c0c0" stroke="#000" stroke-width="1.1"/>
<circle cx="1291.46" cy="229.21" r="3.7" fill="#c0c0c0" stroke="#000" stroke-width="1.1"/>
<circle cx="1280.67" cy="233.59" r="3.7" fill="#c0c0c0" stroke="#000" stroke-width="1.1"/>
<circle cx="1286.06" cy="244.38" r="3.7" fill="#c0c0c0" stroke="#000" stroke-width="1.1"/>
<circle cx="1286.06" cy="255.17" r="3.7" fill="#c0c0c0" stroke="#000" stroke-width="1.1"/>
<circle cx="1286.06" cy="274.04" r="3.7" fill="#c0c0c0" stroke="#000" stroke-width="1.1"/>
<circle cx="1341.34" cy="73.15" r="3.7" fill="#c0c0c0" stroke="#000" stroke-width="1.1"/>
<circle cx="1341.34" cy="140.22" r="3.7" fill="#c0c0c0" stroke="#000" stroke-width="1.1"/>
<circle cx="1335.28" cy="165.5" r="3.7" fill="#c0c0c0" stroke="#000" stroke-width="1.1"/>
<circle cx="1347.41" cy="164.16" r="3.7" fill="#c0c0c0" stroke="#000" stroke-width="1.1"/>
<circle cx="1341.34" cy="179.66" r="3.7" fill="#c0c0c0" stroke="#000" stroke-width="1.1"/>
<circle cx="1341.34" cy="205.62" r="3.7" fill="#c0c0c0" stroke="#000" stroke-width="1.1"/>
<circle cx="1335.28" cy="210.67" r="3.7" fill="#c0c0c0" stroke="#000" stroke-width="1.1"/>
<circle cx="1347.41" cy="210.67" r="3.7" fill="#c0c0c0" stroke="#000" stroke-width="1.1"/>
<circle cx="1341.34" cy="225.5" r="3.7" fill="#c0c0c0" stroke="#000" stroke-width="1.1"/>
<circle cx="1334.6" cy="238.31" r="3.7" fill="#c0c0c0" stroke="#000" stroke-width="1.1"/>
<circle cx="1341.34" cy="240.33" r="3.7" fill="#c0c0c0" stroke="#000" stroke-width="1.1"/>
<circle cx="1348.09" cy="242.02" r="3.7" fill="#c0c0c0" stroke="#000" stroke-width="1.1"/>
<circle cx="1335.28" cy="257.86" r="3.7" fill="#c0c0c0" stroke="#000" stroke-width="1.1"/>
<circle cx="1347.41" cy="257.86" r="3.7" fill="#c0c0c0" stroke="#000" stroke-width="1.1"/>
<circle cx="1335.28" cy="317.52" r="3.7" fill="#c0c0c0" stroke="#000" stroke-width="1.1"/>
<circle cx="1347.41" cy="314.15" r="3.7" fill="#c0c0c0" stroke="#000" stroke-width="1.1"/>
<text x="1140.4" y="415.6" text-anchor="end" font-style="italic">0273-GAL4</text>
<rect x="1169.8" y="406" width="10.8" height="2.1" fill="#000"/>
<circle cx="1230.8" cy="407" r="14.1" fill="#f29200"/>
<rect x="1280.5" y="406" width="10.8" height="2.1" fill="#000"/>
<circle cx="1341.3" cy="407" r="14.1" fill="#dc6ba6"/>
<text x="1140.4" y="454" text-anchor="end" font-style="italic">TH-GAL4</text>
<rect x="1169.8" y="444.4" width="10.8" height="2.1" fill="#000"/>
<rect x="1225.4" y="444.4" width="10.8" height="2.1" fill="#000"/>
<circle cx="1285.9" cy="445.4" r="14.1" fill="#e30613"/>
<circle cx="1341.3" cy="445.4" r="14.1" fill="#dc6ba6"/>
<text x="1140.4" y="491.9" text-anchor="end" font-style="italic">UAS-GtACR1</text>
<circle cx="1175.2" cy="483.3" r="14.1" fill="#575756"/>
<circle cx="1230.8" cy="483.3" r="14.1" fill="#f29200"/>
<circle cx="1285.9" cy="483.3" r="14.1" fill="#e30613"/>
<circle cx="1341.3" cy="483.3" r="14.1" fill="#dc6ba6"/>
<line x1="1482" y1="138.3" x2="1690.7" y2="138.3" stroke="#000" stroke-width="1.8"/>
<path d="M1500.5,138.3 V100.3 H1577.5 V138.3" fill="none" stroke="#000" stroke-width="1.8"/>
<path d="M1595.6,138.3 V100.3 H1672.2 V138.3" fill="none" stroke="#000" stroke-width="1.8"/>
<line x1="1595" y1="145.3" x2="1672.5" y2="145.3" stroke="#000" stroke-width="1.8"/>
<text x="1585.9" y="86.5" text-anchor="middle">23 ºC starved</text>
<text x="1539" y="127.5" text-anchor="middle">CS1</text>
<text x="1634" y="127.5" text-anchor="middle">CS2</text>
<text x="1633.7" y="168.6" text-anchor="middle">Red</text>
<text x="1633.7" y="193.7" text-anchor="middle">light</text>
<line x1="1504.8" y1="203.2" x2="1574.5" y2="203.2" stroke="#000" stroke-width="1.1"/>
<path d="M1501.8,203.2 L1509,200 L1506.84,203.2 L1509,206.4 Z" fill="#000"/>
<path d="M1577.5,203.2 L1570.3,200 L1572.46,203.2 L1570.3,206.4 Z" fill="#000"/>
<line x1="1580.5" y1="203.2" x2="1592.6" y2="203.2" stroke="#000" stroke-width="1.1"/>
<path d="M1577.5,203.2 L1584.7,200 L1582.54,203.2 L1584.7,206.4 Z" fill="#000"/>
<path d="M1595.6,203.2 L1588.4,200 L1590.56,203.2 L1588.4,206.4 Z" fill="#000"/>
<line x1="1598.6" y1="203.2" x2="1669" y2="203.2" stroke="#000" stroke-width="1.1"/>
<path d="M1595.6,203.2 L1602.8,200 L1600.64,203.2 L1602.8,206.4 Z" fill="#000"/>
<path d="M1672,203.2 L1664.8,200 L1666.96,203.2 L1664.8,206.4 Z" fill="#000"/>
<text x="1539.4" y="230" text-anchor="middle">120</text>
<text x="1586" y="230" text-anchor="middle">30</text>
<text x="1633.7" y="230" text-anchor="middle">120</text>
<text x="1680" y="230" text-anchor="middle">(s)</text>
<line x1="1571" y1="255" x2="1571" y2="288.9" stroke="#000" stroke-width="1.9"/>
<path d="M1571,300.5 L1564.8,286 L1571,289.62 L1577.2,286 Z" fill="#000"/>
<text x="1589" y="283">30 s</text>
<line x1="1456" y1="388.2" x2="1716.7" y2="388.2" stroke="#000" stroke-width="1.8"/>
<path d="M1474.6,388.2 V351 H1524.7 V388.2" fill="none" stroke="#000" stroke-width="1.8"/>
<path d="M1553.3,388.2 V351 H1604.3 V388.2" fill="none" stroke="#000" stroke-width="1.8"/>
<path d="M1622.9,388.2 V351 H1698.5 V388.2" fill="none" stroke="#000" stroke-width="1.8"/>
<text x="1499.7" y="377.6" text-anchor="middle">CS3</text>
<text x="1578.8" y="377.6" text-anchor="middle">CS4</text>
<text x="1660.7" y="377.6" text-anchor="middle">Test</text>
<text x="1660.5" y="320" text-anchor="middle">CS3</text>
<line x1="1660.5" y1="351" x2="1660.5" y2="340.2" stroke="#000" stroke-width="1.9"/>
<path d="M1660.5,328.6 L1654.3,343.1 L1660.5,339.48 L1666.7,343.1 Z" fill="#000"/>
<line x1="1660.5" y1="388.2" x2="1660.5" y2="401.3" stroke="#000" stroke-width="1.9"/>
<path d="M1660.5,412.9 L1654.3,398.4 L1660.5,402.02 L1666.7,398.4 Z" fill="#000"/>
<text x="1660.5" y="437.5" text-anchor="middle">CS4</text>
<line x1="1474.6" y1="395.6" x2="1524.7" y2="395.6" stroke="#000" stroke-width="1.8"/>
<text x="1499.7" y="419.4" text-anchor="middle">90 V</text>
<line x1="1477.6" y1="453.9" x2="1521.7" y2="453.9" stroke="#000" stroke-width="1.1"/>
<path d="M1474.6,453.9 L1481.8,450.7 L1479.64,453.9 L1481.8,457.1 Z" fill="#000"/>
<path d="M1524.7,453.9 L1517.5,450.7 L1519.66,453.9 L1517.5,457.1 Z" fill="#000"/>
<line x1="1527.7" y1="453.9" x2="1550.3" y2="453.9" stroke="#000" stroke-width="1.1"/>
<path d="M1524.7,453.9 L1531.9,450.7 L1529.74,453.9 L1531.9,457.1 Z" fill="#000"/>
<path d="M1553.3,453.9 L1546.1,450.7 L1548.26,453.9 L1546.1,457.1 Z" fill="#000"/>
<line x1="1556.3" y1="453.9" x2="1601.3" y2="453.9" stroke="#000" stroke-width="1.1"/>
<path d="M1553.3,453.9 L1560.5,450.7 L1558.34,453.9 L1560.5,457.1 Z" fill="#000"/>
<path d="M1604.3,453.9 L1597.1,450.7 L1599.26,453.9 L1597.1,457.1 Z" fill="#000"/>
<line x1="1607.3" y1="453.9" x2="1619.9" y2="453.9" stroke="#000" stroke-width="1.1"/>
<path d="M1604.3,453.9 L1611.5,450.7 L1609.34,453.9 L1611.5,457.1 Z" fill="#000"/>
<path d="M1622.9,453.9 L1615.7,450.7 L1617.86,453.9 L1615.7,457.1 Z" fill="#000"/>
<line x1="1625.9" y1="453.9" x2="1695.5" y2="453.9" stroke="#000" stroke-width="1.1"/>
<path d="M1622.9,453.9 L1630.1,450.7 L1627.94,453.9 L1630.1,457.1 Z" fill="#000"/>
<path d="M1698.5,453.9 L1691.3,450.7 L1693.46,453.9 L1691.3,457.1 Z" fill="#000"/>
<text x="1499.7" y="480.7" text-anchor="middle">60</text>
<text x="1538.6" y="480.7" text-anchor="middle">45</text>
<text x="1578.3" y="480.7" text-anchor="middle">60</text>
<text x="1613" y="480.7" text-anchor="middle">30</text>
<text x="1660.5" y="480.7" text-anchor="middle">120</text>
<text x="1706" y="480.7" text-anchor="middle">(s)</text>
<rect x="1911.3" y="81.6" width="29.6" height="177.3" fill="#575756"/>
<rect x="1966.8" y="81.6" width="29.6" height="47.8" fill="#f29200"/>
<rect x="2022.2" y="81.6" width="29.6" height="69.1" fill="#009966"/>
<rect x="2077.6" y="81.6" width="29.6" height="78.2" fill="#3a7fbb"/>
<line x1="1896.8" y1="81.6" x2="2122" y2="81.6" stroke="#000" stroke-width="1.8"/>
<line x1="1896.8" y1="45" x2="1896.8" y2="375.65" stroke="#000" stroke-width="1.7"/>
<line x1="1890.3" y1="81.6" x2="1896.8" y2="81.6" stroke="#000" stroke-width="1.7"/>
<text x="1883.6" y="90.9" text-anchor="end">0</text>
<line x1="1890.3" y1="154.9" x2="1896.8" y2="154.9" stroke="#000" stroke-width="1.7"/>
<text x="1883.6" y="164.2" text-anchor="end">–0.2</text>
<line x1="1890.3" y1="228.2" x2="1896.8" y2="228.2" stroke="#000" stroke-width="1.7"/>
<text x="1883.6" y="237.5" text-anchor="end">–0.4</text>
<line x1="1890.3" y1="301.5" x2="1896.8" y2="301.5" stroke="#000" stroke-width="1.7"/>
<text x="1883.6" y="310.8" text-anchor="end">–0.6</text>
<line x1="1890.3" y1="374.8" x2="1896.8" y2="374.8" stroke="#000" stroke-width="1.7"/>
<text x="1883.6" y="384.1" text-anchor="end">–0.8</text>
<text transform="translate(1824.7,217.9) rotate(-90)" text-anchor="middle">Performance index</text>
<text x="1926.1" y="37.8" text-anchor="middle">a</text>
<text x="1981.6" y="37.8" text-anchor="middle">b</text>
<text x="2037" y="37.8" text-anchor="middle">b</text>
<text x="2092.4" y="37.8" text-anchor="middle">b</text>
<line x1="1926.1" y1="243.4" x2="1926.1" y2="274.7" stroke="#000" stroke-width="2"/>
<line x1="1918.85" y1="243.4" x2="1933.35" y2="243.4" stroke="#000" stroke-width="2"/>
<line x1="1918.85" y1="274.7" x2="1933.35" y2="274.7" stroke="#000" stroke-width="2"/>
<line x1="1981.6" y1="112.6" x2="1981.6" y2="145.9" stroke="#000" stroke-width="2"/>
<line x1="1974.35" y1="112.6" x2="1988.85" y2="112.6" stroke="#000" stroke-width="2"/>
<line x1="1974.35" y1="145.9" x2="1988.85" y2="145.9" stroke="#000" stroke-width="2"/>
<line x1="2037" y1="140.2" x2="2037" y2="159.8" stroke="#000" stroke-width="2"/>
<line x1="2029.75" y1="140.2" x2="2044.25" y2="140.2" stroke="#000" stroke-width="2"/>
<line x1="2029.75" y1="159.8" x2="2044.25" y2="159.8" stroke="#000" stroke-width="2"/>
<line x1="2092.4" y1="146.6" x2="2092.4" y2="172.6" stroke="#000" stroke-width="2"/>
<line x1="2085.15" y1="146.6" x2="2099.65" y2="146.6" stroke="#000" stroke-width="2"/>
<line x1="2085.15" y1="172.6" x2="2099.65" y2="172.6" stroke="#000" stroke-width="2"/>
<circle cx="1926.17" cy="159.09" r="3.7" fill="#c0c0c0" stroke="#000" stroke-width="1.1"/>
<circle cx="1926.17" cy="198.86" r="3.7" fill="#c0c0c0" stroke="#000" stroke-width="1.1"/>
<circle cx="1926.17" cy="214.7" r="3.7" fill="#c0c0c0" stroke="#000" stroke-width="1.1"/>
<circle cx="1932.23" cy="229.2" r="3.7" fill="#c0c0c0" stroke="#000" stroke-width="1.1"/>
<circle cx="1920.1" cy="238.63" r="3.7" fill="#c0c0c0" stroke="#000" stroke-width="1.1"/>
<circle cx="1926.17" cy="243.35" r="3.7" fill="#c0c0c0" stroke="#000" stroke-width="1.1"/>
<circle cx="1926.17" cy="269.64" r="3.7" fill="#c0c0c0" stroke="#000" stroke-width="1.1"/>
<circle cx="1926.17" cy="285.15" r="3.7" fill="#c0c0c0" stroke="#000" stroke-width="1.1"/>
<circle cx="1926.17" cy="297.95" r="3.7" fill="#c0c0c0" stroke="#000" stroke-width="1.1"/>
<circle cx="1926.17" cy="307.39" r="3.7" fill="#c0c0c0" stroke="#000" stroke-width="1.1"/>
<circle cx="1932.23" cy="326.6" r="3.7" fill="#c0c0c0" stroke="#000" stroke-width="1.1"/>
<circle cx="1920.1" cy="337.05" r="3.7" fill="#c0c0c0" stroke="#000" stroke-width="1.1"/>
<circle cx="1972.34" cy="71.12" r="3.7" fill="#c0c0c0" stroke="#000" stroke-width="1.1"/>
<circle cx="1981.44" cy="71.12" r="3.7" fill="#c0c0c0" stroke="#000" stroke-width="1.1"/>
<circle cx="1990.54" cy="71.46" r="3.7" fill="#c0c0c0" stroke="#000" stroke-width="1.1"/>
<circle cx="1981.44" cy="94.37" r="3.7" fill="#c0c0c0" stroke="#000" stroke-width="1.1"/>
<circle cx="1975.38" cy="101.79" r="3.7" fill="#c0c0c0" stroke="#000" stroke-width="1.1"/>
<circle cx="1987.51" cy="109.88" r="3.7" fill="#c0c0c0" stroke="#000" stroke-width="1.1"/>
<circle cx="1975.38" cy="119.99" r="3.7" fill="#c0c0c0" stroke="#000" stroke-width="1.1"/>
<circle cx="1987.51" cy="125.05" r="3.7" fill="#c0c0c0" stroke="#000" stroke-width="1.1"/>
<circle cx="1981.44" cy="136.84" r="3.7" fill="#c0c0c0" stroke="#000" stroke-width="1.1"/>
<circle cx="1981.44" cy="193.8" r="3.7" fill="#c0c0c0" stroke="#000" stroke-width="1.1"/>
<circle cx="1975.38" cy="229.53" r="3.7" fill="#c0c0c0" stroke="#000" stroke-width="1.1"/>
<circle cx="1987.51" cy="227.85" r="3.7" fill="#c0c0c0" stroke="#000" stroke-width="1.1"/>
<circle cx="2037.06" cy="88.98" r="3.7" fill="#c0c0c0" stroke="#000" stroke-width="1.1"/>
<circle cx="2027.28" cy="128.08" r="3.7" fill="#c0c0c0" stroke="#000" stroke-width="1.1"/>
<circle cx="2034.02" cy="128.08" r="3.7" fill="#c0c0c0" stroke="#000" stroke-width="1.1"/>
<circle cx="2041.44" cy="128.08" r="3.7" fill="#c0c0c0" stroke="#000" stroke-width="1.1"/>
<circle cx="2046.83" cy="124.04" r="3.7" fill="#c0c0c0" stroke="#000" stroke-width="1.1"/>
<circle cx="2030.99" cy="148.3" r="3.7" fill="#c0c0c0" stroke="#000" stroke-width="1.1"/>
<circle cx="2043.12" cy="144.93" r="3.7" fill="#c0c0c0" stroke="#000" stroke-width="1.1"/>
<circle cx="2037.06" cy="159.76" r="3.7" fill="#c0c0c0" stroke="#000" stroke-width="1.1"/>
<circle cx="2032.68" cy="164.82" r="3.7" fill="#c0c0c0" stroke="#000" stroke-width="1.1"/>
<circle cx="2041.44" cy="168.53" r="3.7" fill="#c0c0c0" stroke="#000" stroke-width="1.1"/>
<circle cx="2030.99" cy="187.74" r="3.7" fill="#c0c0c0" stroke="#000" stroke-width="1.1"/>
<circle cx="2043.12" cy="184.37" r="3.7" fill="#c0c0c0" stroke="#000" stroke-width="1.1"/>
<circle cx="2037.06" cy="210.99" r="3.7" fill="#c0c0c0" stroke="#000" stroke-width="1.1"/>
<circle cx="2092.67" cy="60.67" r="3.7" fill="#c0c0c0" stroke="#000" stroke-width="1.1"/>
<circle cx="2092.67" cy="98.76" r="3.7" fill="#c0c0c0" stroke="#000" stroke-width="1.1"/>
<circle cx="2098.74" cy="132.46" r="3.7" fill="#c0c0c0" stroke="#000" stroke-width="1.1"/>
<circle cx="2086.27" cy="142.57" r="3.7" fill="#c0c0c0" stroke="#000" stroke-width="1.1"/>
<circle cx="2092.67" cy="158.41" r="3.7" fill="#c0c0c0" stroke="#000" stroke-width="1.1"/>
<circle cx="2085.26" cy="162.8" r="3.7" fill="#c0c0c0" stroke="#000" stroke-width="1.1"/>
<circle cx="2099.75" cy="165.83" r="3.7" fill="#c0c0c0" stroke="#000" stroke-width="1.1"/>
<circle cx="2086.27" cy="189.76" r="3.7" fill="#c0c0c0" stroke="#000" stroke-width="1.1"/>
<circle cx="2098.74" cy="188.75" r="3.7" fill="#c0c0c0" stroke="#000" stroke-width="1.1"/>
<circle cx="2092.67" cy="195.83" r="3.7" fill="#c0c0c0" stroke="#000" stroke-width="1.1"/>
<circle cx="2086.27" cy="205.6" r="3.7" fill="#c0c0c0" stroke="#000" stroke-width="1.1"/>
<circle cx="2098.74" cy="213.69" r="3.7" fill="#c0c0c0" stroke="#000" stroke-width="1.1"/>
<text x="1892" y="415.7" text-anchor="end" font-style="italic">0273-GAL4</text>
<rect x="1920.7" y="406.1" width="10.8" height="2.1" fill="#000"/>
<circle cx="1981.6" cy="407.1" r="14.1" fill="#f29200"/>
<rect x="2031.6" y="406.1" width="10.8" height="2.1" fill="#000"/>
<rect x="2087" y="406.1" width="10.8" height="2.1" fill="#000"/>
<text x="1892" y="454" text-anchor="end" font-style="italic">R48B04-GAL4</text>
<rect x="1920.7" y="444.4" width="10.8" height="2.1" fill="#000"/>
<rect x="1976.2" y="444.4" width="10.8" height="2.1" fill="#000"/>
<circle cx="2037" cy="445.4" r="14.1" fill="#009966"/>
<circle cx="2092.4" cy="445.4" r="14.1" fill="#006ab4"/>
<text x="1892" y="491.8" text-anchor="end" font-style="italic">R15A04-GAL80</text>
<circle cx="1926.1" cy="483.2" r="14.1" fill="#575756"/>
<rect x="1976.2" y="482.2" width="10.8" height="2.1" fill="#000"/>
<rect x="2031.6" y="482.2" width="10.8" height="2.1" fill="#000"/>
<circle cx="2092.4" cy="483.2" r="14.1" fill="#006ab4"/>
<text x="1892" y="530.1" text-anchor="end" font-style="italic">UAS-CsChr</text>
<circle cx="1926.1" cy="521.5" r="14.1" fill="#575756"/>
<circle cx="1981.6" cy="521.5" r="14.1" fill="#f29200"/>
<circle cx="2037" cy="521.5" r="14.1" fill="#009966"/>
<circle cx="2092.4" cy="521.5" r="14.1" fill="#006ab4"/>
<g transform="translate(115,655) scale(0.17720)">
<path d="M303,208 C300.33,194.62 301.05,184.2 306,175.7 C310.95,167.2 322.87,160.12 332.7,157 C342.53,153.88 356.12,158.33 365,157 C373.88,155.67 380.67,155.72 386,149 C391.33,142.28 389.83,129.23 397,116.7 C404.17,104.17 414.67,86.32 429,73.8 C443.33,61.28 465.07,49.22 483,41.6 C500.93,33.98 518.77,30.35 536.6,28.1 C554.43,25.85 573.93,24.95 590,28.1 C606.07,31.25 623.17,36.7 633,47 C642.83,57.3 648.07,73.82 649,89.9 C649.93,105.98 648.43,126.52 638.6,143.5 C628.77,160.48 605.22,177.48 590,191.8 C574.78,206.12 557.1,215.98 547.3,229.4 C537.5,242.82 533.88,257.1 531.2,272.3 C528.52,287.5 530.3,303.6 531.2,320.6 C532.1,337.6 535.7,356.4 536.6,374.3 C537.5,392.2 537.93,405.65 536.6,428 C535.27,450.35 531.37,482.77 528.6,508.4 C525.83,534.03 523.6,558.2 520,581.8 C516.4,605.4 507,635.63 507,650 C507,664.37 510.5,665.33 520,668 C529.5,670.67 544.42,669.67 564,666 C583.58,662.33 617.17,651.73 637.5,646 C657.83,640.27 665.67,632.37 686,631.6 C706.33,630.83 731,640.58 759.5,641.4 C788,642.22 828.58,635.68 857,636.5 C885.42,637.32 905.58,639.8 930,646.3 C954.42,652.8 979.07,667.38 1003.5,675.5 C1027.93,683.62 1053.85,689.3 1076.6,695 C1099.35,700.7 1123.72,702.37 1140,709.7 C1156.28,717.03 1164.53,725.98 1174.3,739 C1184.07,752.02 1192.92,769.92 1198.6,787.8 C1204.28,805.68 1205.95,828.43 1208.4,846.3 C1210.85,864.17 1214.12,877.92 1213.3,895 C1212.48,912.08 1210,934.13 1203.5,948.8 C1197,963.47 1186.5,969.18 1174.3,983 C1162.1,996.82 1140.85,1015.45 1130.3,1031.7 C1119.75,1047.95 1120.72,1065.87 1111,1080.5 C1101.28,1095.13 1085.83,1110.55 1072,1119.5 C1058.17,1128.45 1041.05,1133.38 1028,1134.2 C1014.95,1135.02 1007.53,1133.35 993.7,1124.4 C979.87,1115.45 961.27,1095.95 945,1080.5 C928.73,1065.05 910.77,1044.72 896.1,1031.7 C881.43,1018.68 871.63,1010.52 857,1002.4 C842.37,994.28 828.63,987.07 808.3,983 C787.97,978.93 759.38,977.2 735,978 C710.62,978.8 682.32,984.53 662,987.8 C641.68,991.07 629.43,994.35 613.1,997.6 C596.77,1000.85 581.68,1003.73 564,1007.3 C546.32,1010.87 527,1019.1 507,1019 C487,1018.9 464.03,1010.87 444,1006.7 C423.97,1002.53 405.8,988.78 386.8,994 C367.8,999.22 349.02,1022.17 330,1038 C310.98,1053.83 290.7,1077.33 272.7,1089 C254.7,1100.67 237.87,1107 222,1108 C206.13,1109 198.67,1105.5 177.5,1095 C156.33,1084.5 116.13,1061.83 95,1045 C73.87,1028.17 57.03,1011 50.7,994 C44.37,977 44.28,958.83 57,943 C69.72,927.17 98.5,910.67 127,899 C155.5,887.33 202.67,884.67 228,873 C253.33,861.33 264.17,849 279,829 C293.83,809 304.33,778.33 317,753 C329.67,727.67 344.42,702.37 355,677 C365.58,651.63 375.67,628.97 380.5,600.8 C385.33,572.63 384.42,536.8 384,508 C383.58,479.2 380.33,453 378,428 C375.67,403 374.83,380.33 370,358 C365.17,335.67 357,311 349,294 C341,277 329.67,270.33 322,256 C314.33,241.67 305.67,221.38 303,208 Z" fill="#d8d8d8" stroke="#9b9b9b" stroke-width="5.5"/>
<path d="M63.4,975 C74,963.33 100.57,917.67 127,905 C153.43,892.33 192.5,892.67 222,899 C251.5,905.33 286,927.17 304,943 C322,958.83 330,975 330,994 C330,1013 318.83,1041.17 304,1057 C289.17,1072.83 265.25,1084.67 241,1089 C216.75,1093.33 185,1092.5 158.5,1083 C132,1073.5 97.85,1050 82,1032 C66.15,1014 66.5,984.5 63.4,975" fill="none" stroke="#a8a8a8" stroke-width="4.5"/>
<path d="M386,149 C391.42,157 409.5,180.03 418.5,197 C427.5,213.97 435.08,229.3 440,250.8 C444.92,272.3 445.33,311.63 448,326 C450.67,340.37 454.67,335.17 456,337" fill="none" stroke="#a8a8a8" stroke-width="4.5"/>
<path d="M375.6,379.6 C382.75,374.23 405.1,354.55 418.5,347.4 C431.9,340.25 439.92,337.6 456,336.7 C472.08,335.8 501.57,338.45 515,342 C528.43,345.55 533,355.33 536.6,358" fill="none" stroke="#a8a8a8" stroke-width="4.5"/>
<path d="M386.8,423.3 C387.33,439.42 388.95,488.3 390,520 C391.05,551.7 389.77,594.17 393.1,613.5 C396.43,632.83 401.52,631.25 410,636 C418.48,640.75 432,642 444,642 C456,642 473.57,640.75 482,636 C490.43,631.25 491.6,632.83 494.6,613.5 C497.6,594.17 497.88,551.7 500,520 C502.12,488.3 506.08,439.42 507.3,423.3" fill="none" stroke="#a8a8a8" stroke-width="4.5"/>
<path d="M389,395.7 C388.67,409.75 387.5,447.78 387,480 C386.5,512.22 386.17,570.83 386,589" fill="none" stroke="#a8a8a8" stroke-width="4.5"/>
<path d="M440,990 C453.33,987.5 493.33,980 520,975 C546.67,970 580,965.83 600,960 C620,954.17 633.33,943.33 640,940" fill="none" stroke="#a8a8a8" stroke-width="4.5"/>
<path d="M870,1000 C871.67,990 870,956.67 880,940 C890,923.33 913.33,910 930,900 C946.67,890 971.67,883.33 980,880" fill="none" stroke="#a8a8a8" stroke-width="4.5"/>
</g>
<g transform="translate(115,655) scale(0.17720)">
<path d="M891.3,992.7 C887.3,977.27 898.72,977.23 906,963.4 C913.28,949.57 926.9,919.47 935,909.7 C943.1,899.93 949.7,894.22 954.6,904.8 C959.5,915.38 957.88,954.5 964.4,973.2 C970.92,991.9 979.1,1007.25 993.7,1017 C1008.3,1026.75 1031.67,1030.07 1052,1031.7 C1072.33,1033.33 1105.87,1020.3 1115.7,1026.8 C1125.53,1033.3 1117.52,1056.05 1111,1070.7 C1104.48,1085.35 1090.43,1104.52 1076.6,1114.7 C1062.77,1124.88 1044.27,1132.62 1028,1131.8 C1011.73,1130.98 995.33,1122.43 979,1109.8 C962.67,1097.17 944.62,1075.52 930,1056 C915.38,1036.48 895.3,1008.13 891.3,992.7 Z" fill="#f3931f" stroke="#000" stroke-width="6"/>
<path d="M1000,712 C1009.5,704.47 1035.17,704.8 1052,704.8 C1068.83,704.8 1084.67,707.47 1101,712 C1117.33,716.53 1136,722.33 1150,732 C1164,741.67 1185,758.67 1185,770 C1185,781.33 1174.17,788.33 1150,800 C1125.83,811.67 1069.17,823.33 1040,840 C1010.83,856.67 990,893.33 975,900 C960,906.67 950,896.67 950,880 C950,863.33 967.5,821.67 975,800 C982.5,778.33 990.83,764.67 995,750 C999.17,735.33 990.5,719.53 1000,712 Z" fill="#f3931f" stroke="#000" stroke-width="6"/>
<path d="M964.4,895 C964.4,868.18 968.4,835.67 979,812.1 C989.6,788.53 1009.28,767.42 1028,753.6 C1046.72,739.78 1070.97,730.02 1091.3,729.2 C1111.63,728.38 1134.55,734.88 1150,748.7 C1165.45,762.52 1177.5,789.33 1184,812.1 C1190.5,834.87 1190.62,860.9 1189,885.3 C1187.38,909.7 1184.9,936.55 1174.3,958.5 C1163.7,980.45 1143.28,1004.42 1125.4,1017 C1107.52,1029.58 1085.7,1033.17 1067,1034 C1048.3,1034.83 1027.87,1032.17 1013.2,1022 C998.53,1011.83 987.13,994.17 979,973 C970.87,951.83 964.4,921.82 964.4,895 Z" fill="#f3931f" stroke="#000" stroke-width="6"/>
<path d="M769,704.8 C775.08,683.65 783.83,669.87 798.5,660.9 C813.17,651.93 834.25,651.82 857,651 C879.75,650.18 913,650.28 935,656 C957,661.72 976.78,673.13 989,685.3 C1001.22,697.47 1007.52,711.92 1008.3,729 C1009.08,746.08 1002.65,769.88 993.7,787.8 C984.75,805.72 965.22,820.25 954.6,836.5 C943.98,852.75 938.1,867.4 930,885.3 C921.9,903.2 916.5,930.07 906,943.9 C895.5,957.73 883.28,964.23 867,968.3 C850.72,972.37 824.63,970.75 808.3,968.3 C791.97,965.85 777.13,967.43 769,953.6 C760.87,939.77 760.67,912.93 759.5,885.3 C758.33,857.67 760.42,817.88 762,787.8 C763.58,757.72 762.92,725.95 769,704.8 Z" fill="#f3931f" stroke="#000" stroke-width="6"/>
<path d="M437.5,879.9 C445.95,867.75 455.45,851.88 469.2,845 C482.95,838.12 492.53,839.13 520,838.6 C547.47,838.07 615,824.35 634,841.8 C653,859.25 644.55,924.27 634,943.3 C623.45,962.33 591.82,949.67 570.7,956 C549.58,962.33 528.43,978.13 507.3,981.3 C486.17,984.47 460.82,979.22 443.9,975 C426.98,970.78 410.03,965.52 405.8,956 C401.57,946.48 413.22,930.58 418.5,917.9 C423.78,905.22 429.05,892.05 437.5,879.9 Z" fill="#f3931f" stroke="#000" stroke-width="6"/>
<path d="M513.6,721.3 C518.88,703.33 524.2,701.28 539,696 C553.8,690.72 585.57,690.67 602.4,689.6 C619.23,688.53 633.73,666.35 640,689.6 C646.27,712.85 649.43,803.2 640,829.1 C630.57,855 601.3,843.93 583.4,845 C565.5,846.07 545.28,842.37 532.6,835.5 C519.92,828.63 510.47,822.83 507.3,803.8 C504.13,784.77 508.32,739.27 513.6,721.3 Z" fill="#f3931f" stroke="#000" stroke-width="6"/>
<path d="M637.5,665.8 C648.05,649.13 678.08,640.63 696,639 C713.92,637.37 734.42,643.4 745,656 C755.58,668.6 757.9,684.52 759.5,714.6 C761.1,744.68 756.18,793.43 754.6,836.5 C753.02,879.57 761.38,948.58 750,973 C738.62,997.42 706.63,982.17 686.3,983 C665.97,983.83 639.78,986.17 628,978 C616.22,969.83 615.6,957.58 615.6,934 C615.6,910.42 625.15,869 628,836.5 C630.85,804 631.12,767.45 632.7,739 C634.28,710.55 626.95,682.47 637.5,665.8 Z" fill="#f3931f" stroke="#000" stroke-width="6"/>
<path d="M304.4,829.1 C307.57,807.95 317.02,777.3 329.7,753 C342.38,728.7 363.58,700.2 380.5,683.3 C397.42,666.4 414.28,655.83 431.2,651.6 C448.12,647.37 471.97,650.5 482,657.9 C492.03,665.3 489.83,680.15 491.4,696 C492.97,711.85 489.8,735.03 491.4,753 C493,770.97 502.57,791.12 501,803.8 C499.43,816.48 491.52,820.65 482,829.1 C472.48,837.55 452.37,839.7 443.9,854.5 C435.43,869.3 437.55,903.1 431.2,917.9 C424.85,932.7 418.5,941.18 405.8,943.3 C393.1,945.42 370.85,941.17 355,930.6 C339.15,920.03 319.13,896.82 310.7,879.9 C302.27,862.98 301.23,850.25 304.4,829.1 Z" fill="#f3931f" stroke="#000" stroke-width="6"/>
<path d="M815,320 C740,370 650,440 600,510 C560,570 520,620 495,660" fill="none" stroke="#000" stroke-width="6.2"/>
<path d="M680,430 L699.33,399.16 L699.55,415.27 L714.98,419.92 Z" fill="#000"/>
<path d="M900,375 C850,420 780,470 750,510 C710,560 700,600 700,635" fill="none" stroke="#000" stroke-width="6.2"/>
<path d="M762,505 L776.85,471.77 L779.31,487.69 L795.23,490.15 Z" fill="#000"/>
<path d="M965,375 C960,430 945,480 940,520 C925,580 915,620 905,645" fill="none" stroke="#000" stroke-width="6.2"/>
<path d="M940,518 L933.1,482.26 L944.25,493.89 L958.71,486.77 Z" fill="#000"/>
<path d="M1075,375 C1060,430 1040,470 1025,520 C1005,580 980,620 960,660" fill="none" stroke="#000" stroke-width="6.2"/>
<path d="M1025,518 L1024.41,481.6 L1033.37,495 L1048.84,490.5 Z" fill="#000"/>
<path d="M1140,375 C1130,450 1110,520 1100,590 C1080,650 1050,700 1035,730" fill="none" stroke="#000" stroke-width="6.2"/>
<path d="M1100,590 L1096.24,553.79 L1106.34,566.35 L1121.36,560.52 Z" fill="#000"/>
<path d="M1160,375 C1175,450 1175,510 1170,550 C1160,640 1140,690 1120,730" fill="none" stroke="#000" stroke-width="6.2"/>
<path d="M1170,552 L1160.01,517 L1172.13,527.61 L1185.91,519.26 Z" fill="#000"/>
<path d="M1195,375 C1230,450 1265,520 1265,560 C1280,700 1240,800 1195,860" fill="none" stroke="#000" stroke-width="6.2"/>
<path d="M1265,565 L1250.82,531.47 L1264.15,540.53 L1276.81,530.57 Z" fill="#000"/>
</g>
<circle cx="276.2" cy="673.3" r="4.75" fill="#f3931f" stroke="#000" stroke-width="0.95"/>
<circle cx="285.95" cy="673.3" r="4.75" fill="#f3931f" stroke="#000" stroke-width="0.95"/>
<circle cx="295.7" cy="673.3" r="4.75" fill="#f3931f" stroke="#000" stroke-width="0.95"/>
<circle cx="305.45" cy="673.3" r="4.75" fill="#f3931f" stroke="#000" stroke-width="0.95"/>
<circle cx="315.2" cy="673.3" r="4.75" fill="#f3931f" stroke="#000" stroke-width="0.95"/>
<circle cx="324.95" cy="673.3" r="4.75" fill="#f3931f" stroke="#000" stroke-width="0.95"/>
<circle cx="270.9" cy="683.9" r="4.75" fill="#f3931f" stroke="#000" stroke-width="0.95"/>
<circle cx="280.65" cy="683.9" r="4.75" fill="#f3931f" stroke="#000" stroke-width="0.95"/>
<circle cx="290.4" cy="683.9" r="4.75" fill="#f3931f" stroke="#000" stroke-width="0.95"/>
<circle cx="300.15" cy="683.9" r="4.75" fill="#f3931f" stroke="#000" stroke-width="0.95"/>
<circle cx="309.9" cy="683.9" r="4.75" fill="#f3931f" stroke="#000" stroke-width="0.95"/>
<circle cx="319.65" cy="683.9" r="4.75" fill="#f3931f" stroke="#000" stroke-width="0.95"/>
<circle cx="329.4" cy="683.9" r="4.75" fill="#f3931f" stroke="#000" stroke-width="0.95"/>
<circle cx="266.5" cy="694.5" r="4.75" fill="#f3931f" stroke="#000" stroke-width="0.95"/>
<circle cx="276.25" cy="694.5" r="4.75" fill="#f3931f" stroke="#000" stroke-width="0.95"/>
<circle cx="286" cy="694.5" r="4.75" fill="#f3931f" stroke="#000" stroke-width="0.95"/>
<circle cx="295.75" cy="694.5" r="4.75" fill="#f3931f" stroke="#000" stroke-width="0.95"/>
<circle cx="305.5" cy="694.5" r="4.75" fill="#f3931f" stroke="#000" stroke-width="0.95"/>
<circle cx="315.25" cy="694.5" r="4.75" fill="#f3931f" stroke="#000" stroke-width="0.95"/>
<circle cx="325" cy="694.5" r="4.75" fill="#f3931f" stroke="#000" stroke-width="0.95"/>
<circle cx="334.75" cy="694.5" r="4.75" fill="#f3931f" stroke="#000" stroke-width="0.95"/>
<circle cx="261.7" cy="705.1" r="4.75" fill="#f3931f" stroke="#000" stroke-width="0.95"/>
<circle cx="271.45" cy="705.1" r="4.75" fill="#f3931f" stroke="#000" stroke-width="0.95"/>
<circle cx="281.2" cy="705.1" r="4.75" fill="#f3931f" stroke="#000" stroke-width="0.95"/>
<circle cx="290.95" cy="705.1" r="4.75" fill="#f3931f" stroke="#000" stroke-width="0.95"/>
<circle cx="300.7" cy="705.1" r="4.75" fill="#f3931f" stroke="#000" stroke-width="0.95"/>
<circle cx="310.45" cy="705.1" r="4.75" fill="#f3931f" stroke="#000" stroke-width="0.95"/>
<circle cx="320.2" cy="705.1" r="4.75" fill="#f3931f" stroke="#000" stroke-width="0.95"/>
<circle cx="329.95" cy="705.1" r="4.75" fill="#f3931f" stroke="#000" stroke-width="0.95"/>
<circle cx="266.5" cy="715.7" r="4.75" fill="#f3931f" stroke="#000" stroke-width="0.95"/>
<circle cx="276.25" cy="715.7" r="4.75" fill="#f3931f" stroke="#000" stroke-width="0.95"/>
<circle cx="286" cy="715.7" r="4.75" fill="#f3931f" stroke="#000" stroke-width="0.95"/>
<circle cx="295.75" cy="715.7" r="4.75" fill="#f3931f" stroke="#000" stroke-width="0.95"/>
<circle cx="305.5" cy="715.7" r="4.75" fill="#f3931f" stroke="#000" stroke-width="0.95"/>
<circle cx="315.25" cy="715.7" r="4.75" fill="#f3931f" stroke="#000" stroke-width="0.95"/>
<circle cx="325" cy="715.7" r="4.75" fill="#f3931f" stroke="#000" stroke-width="0.95"/>
<circle cx="334.75" cy="715.7" r="4.75" fill="#f3931f" stroke="#000" stroke-width="0.95"/>
<text x="186.7" y="802" text-anchor="middle" fill="#fff">α1</text>
<text x="225.2" y="796.8" text-anchor="middle" fill="#fff">β′1</text>
<text x="207.2" y="821.6" text-anchor="middle" fill="#fff">β1</text>
<text x="236.9" y="819.2" text-anchor="middle" fill="#fff">γ3</text>
<text x="264.5" y="805" text-anchor="middle" fill="#fff">γ4</text>
<text x="296" y="799.3" text-anchor="middle" fill="#fff">β′2</text>
<text x="303.9" y="819.7" text-anchor="middle" fill="#fff">γ5</text>
<text x="295.1" y="843.4" text-anchor="middle" fill="#fff">β2</text>
<text x="231.1" y="871.4" text-anchor="middle" font-style="italic">0273-GAL4</text>
<g transform="translate(0,892.3) scale(0.17720)">
<path d="M303,208 C300.33,194.62 301.05,184.2 306,175.7 C310.95,167.2 322.87,160.12 332.7,157 C342.53,153.88 356.12,158.33 365,157 C373.88,155.67 380.67,155.72 386,149 C391.33,142.28 389.83,129.23 397,116.7 C404.17,104.17 414.67,86.32 429,73.8 C443.33,61.28 465.07,49.22 483,41.6 C500.93,33.98 518.77,30.35 536.6,28.1 C554.43,25.85 573.93,24.95 590,28.1 C606.07,31.25 623.17,36.7 633,47 C642.83,57.3 648.07,73.82 649,89.9 C649.93,105.98 648.43,126.52 638.6,143.5 C628.77,160.48 605.22,177.48 590,191.8 C574.78,206.12 557.1,215.98 547.3,229.4 C537.5,242.82 533.88,257.1 531.2,272.3 C528.52,287.5 530.3,303.6 531.2,320.6 C532.1,337.6 535.7,356.4 536.6,374.3 C537.5,392.2 537.93,405.65 536.6,428 C535.27,450.35 531.37,482.77 528.6,508.4 C525.83,534.03 523.6,558.2 520,581.8 C516.4,605.4 507,635.63 507,650 C507,664.37 510.5,665.33 520,668 C529.5,670.67 544.42,669.67 564,666 C583.58,662.33 617.17,651.73 637.5,646 C657.83,640.27 665.67,632.37 686,631.6 C706.33,630.83 731,640.58 759.5,641.4 C788,642.22 828.58,635.68 857,636.5 C885.42,637.32 905.58,639.8 930,646.3 C954.42,652.8 979.07,667.38 1003.5,675.5 C1027.93,683.62 1053.85,689.3 1076.6,695 C1099.35,700.7 1123.72,702.37 1140,709.7 C1156.28,717.03 1164.53,725.98 1174.3,739 C1184.07,752.02 1192.92,769.92 1198.6,787.8 C1204.28,805.68 1205.95,828.43 1208.4,846.3 C1210.85,864.17 1214.12,877.92 1213.3,895 C1212.48,912.08 1210,934.13 1203.5,948.8 C1197,963.47 1186.5,969.18 1174.3,983 C1162.1,996.82 1140.85,1015.45 1130.3,1031.7 C1119.75,1047.95 1120.72,1065.87 1111,1080.5 C1101.28,1095.13 1085.83,1110.55 1072,1119.5 C1058.17,1128.45 1041.05,1133.38 1028,1134.2 C1014.95,1135.02 1007.53,1133.35 993.7,1124.4 C979.87,1115.45 961.27,1095.95 945,1080.5 C928.73,1065.05 910.77,1044.72 896.1,1031.7 C881.43,1018.68 871.63,1010.52 857,1002.4 C842.37,994.28 828.63,987.07 808.3,983 C787.97,978.93 759.38,977.2 735,978 C710.62,978.8 682.32,984.53 662,987.8 C641.68,991.07 629.43,994.35 613.1,997.6 C596.77,1000.85 581.68,1003.73 564,1007.3 C546.32,1010.87 527,1019.1 507,1019 C487,1018.9 464.03,1010.87 444,1006.7 C423.97,1002.53 405.8,988.78 386.8,994 C367.8,999.22 349.02,1022.17 330,1038 C310.98,1053.83 290.7,1077.33 272.7,1089 C254.7,1100.67 237.87,1107 222,1108 C206.13,1109 198.67,1105.5 177.5,1095 C156.33,1084.5 116.13,1061.83 95,1045 C73.87,1028.17 57.03,1011 50.7,994 C44.37,977 44.28,958.83 57,943 C69.72,927.17 98.5,910.67 127,899 C155.5,887.33 202.67,884.67 228,873 C253.33,861.33 264.17,849 279,829 C293.83,809 304.33,778.33 317,753 C329.67,727.67 344.42,702.37 355,677 C365.58,651.63 375.67,628.97 380.5,600.8 C385.33,572.63 384.42,536.8 384,508 C383.58,479.2 380.33,453 378,428 C375.67,403 374.83,380.33 370,358 C365.17,335.67 357,311 349,294 C341,277 329.67,270.33 322,256 C314.33,241.67 305.67,221.38 303,208 Z" fill="#d8d8d8" stroke="#9b9b9b" stroke-width="5.5"/>
<path d="M63.4,975 C74,963.33 100.57,917.67 127,905 C153.43,892.33 192.5,892.67 222,899 C251.5,905.33 286,927.17 304,943 C322,958.83 330,975 330,994 C330,1013 318.83,1041.17 304,1057 C289.17,1072.83 265.25,1084.67 241,1089 C216.75,1093.33 185,1092.5 158.5,1083 C132,1073.5 97.85,1050 82,1032 C66.15,1014 66.5,984.5 63.4,975" fill="none" stroke="#a8a8a8" stroke-width="4.5"/>
<path d="M386,149 C391.42,157 409.5,180.03 418.5,197 C427.5,213.97 435.08,229.3 440,250.8 C444.92,272.3 445.33,311.63 448,326 C450.67,340.37 454.67,335.17 456,337" fill="none" stroke="#a8a8a8" stroke-width="4.5"/>
<path d="M375.6,379.6 C382.75,374.23 405.1,354.55 418.5,347.4 C431.9,340.25 439.92,337.6 456,336.7 C472.08,335.8 501.57,338.45 515,342 C528.43,345.55 533,355.33 536.6,358" fill="none" stroke="#a8a8a8" stroke-width="4.5"/>
<path d="M386.8,423.3 C387.33,439.42 388.95,488.3 390,520 C391.05,551.7 389.77,594.17 393.1,613.5 C396.43,632.83 401.52,631.25 410,636 C418.48,640.75 432,642 444,642 C456,642 473.57,640.75 482,636 C490.43,631.25 491.6,632.83 494.6,613.5 C497.6,594.17 497.88,551.7 500,520 C502.12,488.3 506.08,439.42 507.3,423.3" fill="none" stroke="#a8a8a8" stroke-width="4.5"/>
<path d="M389,395.7 C388.67,409.75 387.5,447.78 387,480 C386.5,512.22 386.17,570.83 386,589" fill="none" stroke="#a8a8a8" stroke-width="4.5"/>
<path d="M440,990 C453.33,987.5 493.33,980 520,975 C546.67,970 580,965.83 600,960 C620,954.17 633.33,943.33 640,940" fill="none" stroke="#a8a8a8" stroke-width="4.5"/>
<path d="M870,1000 C871.67,990 870,956.67 880,940 C890,923.33 913.33,910 930,900 C946.67,890 971.67,883.33 980,880" fill="none" stroke="#a8a8a8" stroke-width="4.5"/>
</g>
<g transform="translate(0,885) scale(0.18577)">
<path d="M600,700 C600,670 620,660 650,660 L690,660 C715,660 728,675 728,700 L728,960 C728,990 715,1000 690,1000 L640,1000 C612,1000 598,990 598,960 Z" fill="none" stroke="#a8a8a8" stroke-width="4.5"/>
<path d="M310,760 C328.33,750 378.33,710 420,700 C461.67,690 536.67,700 560,700" fill="none" stroke="#b0b0b0" stroke-width="4"/>
<path d="M330,930 C345,935 381.67,956.67 420,960 C458.33,963.33 536.67,951.67 560,950" fill="none" stroke="#b0b0b0" stroke-width="4"/>
<path d="M60,960 C80,915 150,895 220,898 C280,900 310,930 305,975 C300,1030 270,1075 210,1078 C150,1080 70,1020 60,960 Z" fill="#80c5b0" stroke="#7a7a7a" stroke-width="5" fill-opacity="0.97"/>
<path d="M310,820 C310,740 340,700 380,692 C420,692 450,702 480,702 C520,702 550,690 582,692 C590,760 590,900 575,990 C530,995 470,1000 420,995 C370,990 340,960 320,920 C312,890 310,850 310,820 Z" fill="#80c5b0" stroke="#8a8a8a" stroke-width="4.5" fill-opacity="0.97"/>
<path d="M476,704 C474.67,713.33 469,739 468,760 C467,781 467,806.67 470,830 C473,853.33 483.33,888.33 486,900" fill="none" stroke="#000" stroke-width="2.5" stroke-opacity="0.18"/>
<path d="M512,704 C510,713.33 502.67,739 500,760 C497.33,781 497.67,806.67 496,830 C494.33,853.33 491,888.33 490,900" fill="none" stroke="#000" stroke-width="2.5" stroke-opacity="0.18"/>
<path d="M905,720 C950,710 1000,705 1050,720 C1100,740 1130,770 1135,800 C1110,830 1000,880 930,910 C900,890 895,850 905,800 Z" fill="#00a472" stroke="#000" stroke-width="6"/>
<path d="M730,760 C740,700 770,670 820,662 C860,658 910,665 940,690 C960,720 950,760 930,800 C910,830 890,870 880,920 C870,960 830,970 790,965 C750,960 735,940 730,900 Z" fill="#00a472" stroke="#000" stroke-width="6"/>
<path d="M915,870 C920,790 970,740 1040,735 C1100,735 1135,780 1140,850 C1140,940 1100,1020 1040,1025 C970,1030 915,960 915,870 Z" fill="#00a472" stroke="#000" stroke-width="6"/>
<path d="M920,395 C915,450 905,500 900,520 C885,580 872,620 860,660" fill="none" stroke="#000" stroke-width="6"/>
<path d="M900,525 L893.1,489.26 L904.25,500.89 L918.71,493.77 Z" fill="#000"/>
<path d="M1025,395 C1005,450 990,490 975,525 C955,580 940,620 920,665" fill="none" stroke="#000" stroke-width="6"/>
<path d="M975,528 L975.68,491.61 L984.17,505.3 L999.79,501.35 Z" fill="#000"/>
<path d="M1083,395 C1075,460 1065,520 1048,600 C1030,650 1015,700 1000,740" fill="none" stroke="#000" stroke-width="6"/>
<path d="M1050,600 L1046.24,563.79 L1056.34,576.35 L1071.36,570.52 Z" fill="#000"/>
<path d="M1108,395 C1125,470 1122,520 1115,570 C1105,640 1092,690 1080,730" fill="none" stroke="#000" stroke-width="6"/>
<path d="M1116,572 L1106.01,537 L1118.13,547.61 L1131.91,539.26 Z" fill="#000"/>
<path d="M1140,395 C1170,460 1195,520 1210,575 C1225,680 1190,790 1140,855" fill="none" stroke="#000" stroke-width="6"/>
<path d="M1208,580 L1190.39,548.14 L1204.59,555.76 L1216.14,544.52 Z" fill="#000"/>
<path d="M590,765 C640,768 690,768 735,768" fill="none" stroke="#000" stroke-width="6"/>
<path d="M668,768 L634,781 L643.52,768 L634,755 Z" fill="#000"/>
<path d="M315,975 C380,965 450,935 520,895 C560,875 600,870 640,860 C680,845 700,800 735,790" fill="none" stroke="#000" stroke-width="6"/>
<path d="M562,878 L532.52,899.36 L538.35,884.34 L525.79,874.24 Z" fill="#000"/>
</g>
<circle cx="161.2" cy="910.6" r="4.75" fill="#d0d0d0" stroke="#000" stroke-width="0.95"/>
<circle cx="170.95" cy="910.6" r="4.75" fill="#00a472" stroke="#000" stroke-width="0.95"/>
<circle cx="180.7" cy="910.6" r="4.75" fill="#00a472" stroke="#000" stroke-width="0.95"/>
<circle cx="190.45" cy="910.6" r="4.75" fill="#d0d0d0" stroke="#000" stroke-width="0.95"/>
<circle cx="200.2" cy="910.6" r="4.75" fill="#00a472" stroke="#000" stroke-width="0.95"/>
<circle cx="209.95" cy="910.6" r="4.75" fill="#d0d0d0" stroke="#000" stroke-width="0.95"/>
<circle cx="155.9" cy="921.2" r="4.75" fill="#00a472" stroke="#000" stroke-width="0.95"/>
<circle cx="165.65" cy="921.2" r="4.75" fill="#00a472" stroke="#000" stroke-width="0.95"/>
<circle cx="175.4" cy="921.2" r="4.75" fill="#d0d0d0" stroke="#000" stroke-width="0.95"/>
<circle cx="185.15" cy="921.2" r="4.75" fill="#00a472" stroke="#000" stroke-width="0.95"/>
<circle cx="194.9" cy="921.2" r="4.75" fill="#00a472" stroke="#000" stroke-width="0.95"/>
<circle cx="204.65" cy="921.2" r="4.75" fill="#d0d0d0" stroke="#000" stroke-width="0.95"/>
<circle cx="214.4" cy="921.2" r="4.75" fill="#00a472" stroke="#000" stroke-width="0.95"/>
<circle cx="151.5" cy="931.8" r="4.75" fill="#d0d0d0" stroke="#000" stroke-width="0.95"/>
<circle cx="161.25" cy="931.8" r="4.75" fill="#d0d0d0" stroke="#000" stroke-width="0.95"/>
<circle cx="171" cy="931.8" r="4.75" fill="#d0d0d0" stroke="#000" stroke-width="0.95"/>
<circle cx="180.75" cy="931.8" r="4.75" fill="#00a472" stroke="#000" stroke-width="0.95"/>
<circle cx="190.5" cy="931.8" r="4.75" fill="#00a472" stroke="#000" stroke-width="0.95"/>
<circle cx="200.25" cy="931.8" r="4.75" fill="#d0d0d0" stroke="#000" stroke-width="0.95"/>
<circle cx="210" cy="931.8" r="4.75" fill="#00a472" stroke="#000" stroke-width="0.95"/>
<circle cx="219.75" cy="931.8" r="4.75" fill="#00a472" stroke="#000" stroke-width="0.95"/>
<circle cx="146.7" cy="942.4" r="4.75" fill="#d0d0d0" stroke="#000" stroke-width="0.95"/>
<circle cx="156.45" cy="942.4" r="4.75" fill="#d0d0d0" stroke="#000" stroke-width="0.95"/>
<circle cx="166.2" cy="942.4" r="4.75" fill="#d0d0d0" stroke="#000" stroke-width="0.95"/>
<circle cx="175.95" cy="942.4" r="4.75" fill="#00a472" stroke="#000" stroke-width="0.95"/>
<circle cx="185.7" cy="942.4" r="4.75" fill="#d0d0d0" stroke="#000" stroke-width="0.95"/>
<circle cx="195.45" cy="942.4" r="4.75" fill="#00a472" stroke="#000" stroke-width="0.95"/>
<circle cx="205.2" cy="942.4" r="4.75" fill="#d0d0d0" stroke="#000" stroke-width="0.95"/>
<circle cx="214.95" cy="942.4" r="4.75" fill="#00a472" stroke="#000" stroke-width="0.95"/>
<circle cx="151.5" cy="953" r="4.75" fill="#d0d0d0" stroke="#000" stroke-width="0.95"/>
<circle cx="161.25" cy="953" r="4.75" fill="#d0d0d0" stroke="#000" stroke-width="0.95"/>
<circle cx="171" cy="953" r="4.75" fill="#00a472" stroke="#000" stroke-width="0.95"/>
<circle cx="180.75" cy="953" r="4.75" fill="#d0d0d0" stroke="#000" stroke-width="0.95"/>
<circle cx="190.5" cy="953" r="4.75" fill="#00a472" stroke="#000" stroke-width="0.95"/>
<circle cx="200.25" cy="953" r="4.75" fill="#00a472" stroke="#000" stroke-width="0.95"/>
<circle cx="210" cy="953" r="4.75" fill="#00a472" stroke="#000" stroke-width="0.95"/>
<circle cx="219.75" cy="953" r="4.75" fill="#d0d0d0" stroke="#000" stroke-width="0.95"/>
<text x="80.8" y="1046.6" text-anchor="middle" fill="#fff">γ2</text>
<text x="35.9" y="1075.4" text-anchor="middle" fill="#fff">γ1</text>
<text x="149.6" y="1041" text-anchor="middle" fill="#fff">γ4</text>
<text x="180.7" y="1035.8" text-anchor="middle" fill="#fff">β′2</text>
<text x="190.9" y="1055.9" text-anchor="middle" fill="#fff">γ5n</text>
<text x="116.8" y="1126.4" text-anchor="middle" font-style="italic">R48B04-GAL4</text>
<g transform="translate(231.3,892.3) scale(0.17720)">
<path d="M303,208 C300.33,194.62 301.05,184.2 306,175.7 C310.95,167.2 322.87,160.12 332.7,157 C342.53,153.88 356.12,158.33 365,157 C373.88,155.67 380.67,155.72 386,149 C391.33,142.28 389.83,129.23 397,116.7 C404.17,104.17 414.67,86.32 429,73.8 C443.33,61.28 465.07,49.22 483,41.6 C500.93,33.98 518.77,30.35 536.6,28.1 C554.43,25.85 573.93,24.95 590,28.1 C606.07,31.25 623.17,36.7 633,47 C642.83,57.3 648.07,73.82 649,89.9 C649.93,105.98 648.43,126.52 638.6,143.5 C628.77,160.48 605.22,177.48 590,191.8 C574.78,206.12 557.1,215.98 547.3,229.4 C537.5,242.82 533.88,257.1 531.2,272.3 C528.52,287.5 530.3,303.6 531.2,320.6 C532.1,337.6 535.7,356.4 536.6,374.3 C537.5,392.2 537.93,405.65 536.6,428 C535.27,450.35 531.37,482.77 528.6,508.4 C525.83,534.03 523.6,558.2 520,581.8 C516.4,605.4 507,635.63 507,650 C507,664.37 510.5,665.33 520,668 C529.5,670.67 544.42,669.67 564,666 C583.58,662.33 617.17,651.73 637.5,646 C657.83,640.27 665.67,632.37 686,631.6 C706.33,630.83 731,640.58 759.5,641.4 C788,642.22 828.58,635.68 857,636.5 C885.42,637.32 905.58,639.8 930,646.3 C954.42,652.8 979.07,667.38 1003.5,675.5 C1027.93,683.62 1053.85,689.3 1076.6,695 C1099.35,700.7 1123.72,702.37 1140,709.7 C1156.28,717.03 1164.53,725.98 1174.3,739 C1184.07,752.02 1192.92,769.92 1198.6,787.8 C1204.28,805.68 1205.95,828.43 1208.4,846.3 C1210.85,864.17 1214.12,877.92 1213.3,895 C1212.48,912.08 1210,934.13 1203.5,948.8 C1197,963.47 1186.5,969.18 1174.3,983 C1162.1,996.82 1140.85,1015.45 1130.3,1031.7 C1119.75,1047.95 1120.72,1065.87 1111,1080.5 C1101.28,1095.13 1085.83,1110.55 1072,1119.5 C1058.17,1128.45 1041.05,1133.38 1028,1134.2 C1014.95,1135.02 1007.53,1133.35 993.7,1124.4 C979.87,1115.45 961.27,1095.95 945,1080.5 C928.73,1065.05 910.77,1044.72 896.1,1031.7 C881.43,1018.68 871.63,1010.52 857,1002.4 C842.37,994.28 828.63,987.07 808.3,983 C787.97,978.93 759.38,977.2 735,978 C710.62,978.8 682.32,984.53 662,987.8 C641.68,991.07 629.43,994.35 613.1,997.6 C596.77,1000.85 581.68,1003.73 564,1007.3 C546.32,1010.87 527,1019.1 507,1019 C487,1018.9 464.03,1010.87 444,1006.7 C423.97,1002.53 405.8,988.78 386.8,994 C367.8,999.22 349.02,1022.17 330,1038 C310.98,1053.83 290.7,1077.33 272.7,1089 C254.7,1100.67 237.87,1107 222,1108 C206.13,1109 198.67,1105.5 177.5,1095 C156.33,1084.5 116.13,1061.83 95,1045 C73.87,1028.17 57.03,1011 50.7,994 C44.37,977 44.28,958.83 57,943 C69.72,927.17 98.5,910.67 127,899 C155.5,887.33 202.67,884.67 228,873 C253.33,861.33 264.17,849 279,829 C293.83,809 304.33,778.33 317,753 C329.67,727.67 344.42,702.37 355,677 C365.58,651.63 375.67,628.97 380.5,600.8 C385.33,572.63 384.42,536.8 384,508 C383.58,479.2 380.33,453 378,428 C375.67,403 374.83,380.33 370,358 C365.17,335.67 357,311 349,294 C341,277 329.67,270.33 322,256 C314.33,241.67 305.67,221.38 303,208 Z" fill="#d8d8d8" stroke="#9b9b9b" stroke-width="5.5"/>
<path d="M63.4,975 C74,963.33 100.57,917.67 127,905 C153.43,892.33 192.5,892.67 222,899 C251.5,905.33 286,927.17 304,943 C322,958.83 330,975 330,994 C330,1013 318.83,1041.17 304,1057 C289.17,1072.83 265.25,1084.67 241,1089 C216.75,1093.33 185,1092.5 158.5,1083 C132,1073.5 97.85,1050 82,1032 C66.15,1014 66.5,984.5 63.4,975" fill="none" stroke="#a8a8a8" stroke-width="4.5"/>
<path d="M386,149 C391.42,157 409.5,180.03 418.5,197 C427.5,213.97 435.08,229.3 440,250.8 C444.92,272.3 445.33,311.63 448,326 C450.67,340.37 454.67,335.17 456,337" fill="none" stroke="#a8a8a8" stroke-width="4.5"/>
<path d="M375.6,379.6 C382.75,374.23 405.1,354.55 418.5,347.4 C431.9,340.25 439.92,337.6 456,336.7 C472.08,335.8 501.57,338.45 515,342 C528.43,345.55 533,355.33 536.6,358" fill="none" stroke="#a8a8a8" stroke-width="4.5"/>
<path d="M386.8,423.3 C387.33,439.42 388.95,488.3 390,520 C391.05,551.7 389.77,594.17 393.1,613.5 C396.43,632.83 401.52,631.25 410,636 C418.48,640.75 432,642 444,642 C456,642 473.57,640.75 482,636 C490.43,631.25 491.6,632.83 494.6,613.5 C497.6,594.17 497.88,551.7 500,520 C502.12,488.3 506.08,439.42 507.3,423.3" fill="none" stroke="#a8a8a8" stroke-width="4.5"/>
<path d="M389,395.7 C388.67,409.75 387.5,447.78 387,480 C386.5,512.22 386.17,570.83 386,589" fill="none" stroke="#a8a8a8" stroke-width="4.5"/>
<path d="M440,990 C453.33,987.5 493.33,980 520,975 C546.67,970 580,965.83 600,960 C620,954.17 633.33,943.33 640,940" fill="none" stroke="#a8a8a8" stroke-width="4.5"/>
<path d="M870,1000 C871.67,990 870,956.67 880,940 C890,923.33 913.33,910 930,900 C946.67,890 971.67,883.33 980,880" fill="none" stroke="#a8a8a8" stroke-width="4.5"/>
</g>
<g transform="translate(230,885) scale(0.18577)">
<path d="M600,700 C600,670 620,660 650,660 L690,660 C715,660 728,675 728,700 L728,960 C728,990 715,1000 690,1000 L640,1000 C612,1000 598,990 598,960 Z" fill="none" stroke="#a8a8a8" stroke-width="4.5"/>
<path d="M310,760 C328.33,750 378.33,710 420,700 C461.67,690 536.67,700 560,700" fill="none" stroke="#b0b0b0" stroke-width="4"/>
<path d="M330,930 C345,935 381.67,956.67 420,960 C458.33,963.33 536.67,951.67 560,950" fill="none" stroke="#b0b0b0" stroke-width="4"/>
<path d="M60,960 C80,915 150,895 220,898 C280,900 310,930 305,975 C300,1030 270,1075 210,1078 C150,1080 70,1020 60,960 Z" fill="#7eadd0" stroke="#7a7a7a" stroke-width="5" fill-opacity="0.97"/>
<path d="M310,820 C310,740 340,700 380,692 C420,692 450,702 480,702 C520,702 550,690 582,692 C590,760 590,900 575,990 C530,995 470,1000 420,995 C370,990 340,960 320,920 C312,890 310,850 310,820 Z" fill="#7eadd0" stroke="#8a8a8a" stroke-width="4.5" fill-opacity="0.97"/>
<path d="M476,704 C474.67,713.33 469,739 468,760 C467,781 467,806.67 470,830 C473,853.33 483.33,888.33 486,900" fill="none" stroke="#000" stroke-width="2.5" stroke-opacity="0.18"/>
<path d="M512,704 C510,713.33 502.67,739 500,760 C497.33,781 497.67,806.67 496,830 C494.33,853.33 491,888.33 490,900" fill="none" stroke="#000" stroke-width="2.5" stroke-opacity="0.18"/>
<path d="M740,760 C745,700 780,668 830,662 C880,658 940,670 965,700 C980,740 960,780 940,800 C910,840 890,880 880,920 C870,960 830,970 790,965 C750,960 740,940 740,900 Z" fill="#0068b4" stroke="#000" stroke-width="6"/>
<path d="M900,880 C910,830 940,790 960,760 C980,720 1020,710 1060,720 C1110,735 1140,790 1140,850 C1140,900 1110,940 1060,960 C1010,980 960,975 930,960 C905,940 895,910 900,880 Z" fill="#0068b4" stroke="#000" stroke-width="6"/>
<path d="M925,395 C920,450 910,500 905,520 C890,580 875,620 865,660" fill="none" stroke="#000" stroke-width="6"/>
<path d="M905,525 L898.1,489.26 L909.25,500.89 L923.71,493.77 Z" fill="#000"/>
<path d="M1030,395 C1010,450 995,490 980,525 C960,580 945,620 925,665" fill="none" stroke="#000" stroke-width="6"/>
<path d="M980,528 L980.68,491.61 L989.17,505.3 L1004.79,501.35 Z" fill="#000"/>
<path d="M1085,395 C1075,460 1065,520 1055,600 C1040,650 1020,690 1005,705" fill="none" stroke="#000" stroke-width="6"/>
<path d="M1057,600 L1050.1,564.26 L1061.25,575.89 L1075.71,568.77 Z" fill="#000"/>
<path d="M1105,395 C1130,470 1130,520 1125,565 C1115,640 1095,690 1080,720" fill="none" stroke="#000" stroke-width="6"/>
<path d="M1126,568 L1114.8,533.37 L1127.28,543.55 L1140.76,534.73 Z" fill="#000"/>
<path d="M590,765 C640,768 690,768 735,768" fill="none" stroke="#000" stroke-width="6"/>
<path d="M668,768 L634,781 L643.52,768 L634,755 Z" fill="#000"/>
<path d="M315,975 C380,965 450,935 520,895 C560,875 600,870 640,860 C680,845 700,800 735,790" fill="none" stroke="#000" stroke-width="6"/>
<path d="M562,878 L532.52,899.36 L538.35,884.34 L525.79,874.24 Z" fill="#000"/>
</g>
<circle cx="392.5" cy="910.6" r="4.75" fill="#d0d0d0" stroke="#000" stroke-width="0.95"/>
<circle cx="402.25" cy="910.6" r="4.75" fill="#d0d0d0" stroke="#000" stroke-width="0.95"/>
<circle cx="412" cy="910.6" r="4.75" fill="#d0d0d0" stroke="#000" stroke-width="0.95"/>
<circle cx="421.75" cy="910.6" r="4.75" fill="#d0d0d0" stroke="#000" stroke-width="0.95"/>
<circle cx="431.5" cy="910.6" r="4.75" fill="#d0d0d0" stroke="#000" stroke-width="0.95"/>
<circle cx="441.25" cy="910.6" r="4.75" fill="#d0d0d0" stroke="#000" stroke-width="0.95"/>
<circle cx="387.2" cy="921.2" r="4.75" fill="#d0d0d0" stroke="#000" stroke-width="0.95"/>
<circle cx="396.95" cy="921.2" r="4.75" fill="#0068b4" stroke="#000" stroke-width="0.95"/>
<circle cx="406.7" cy="921.2" r="4.75" fill="#d0d0d0" stroke="#000" stroke-width="0.95"/>
<circle cx="416.45" cy="921.2" r="4.75" fill="#0068b4" stroke="#000" stroke-width="0.95"/>
<circle cx="426.2" cy="921.2" r="4.75" fill="#0068b4" stroke="#000" stroke-width="0.95"/>
<circle cx="435.95" cy="921.2" r="4.75" fill="#d0d0d0" stroke="#000" stroke-width="0.95"/>
<circle cx="445.7" cy="921.2" r="4.75" fill="#d0d0d0" stroke="#000" stroke-width="0.95"/>
<circle cx="382.8" cy="931.8" r="4.75" fill="#d0d0d0" stroke="#000" stroke-width="0.95"/>
<circle cx="392.55" cy="931.8" r="4.75" fill="#d0d0d0" stroke="#000" stroke-width="0.95"/>
<circle cx="402.3" cy="931.8" r="4.75" fill="#d0d0d0" stroke="#000" stroke-width="0.95"/>
<circle cx="412.05" cy="931.8" r="4.75" fill="#0068b4" stroke="#000" stroke-width="0.95"/>
<circle cx="421.8" cy="931.8" r="4.75" fill="#0068b4" stroke="#000" stroke-width="0.95"/>
<circle cx="431.55" cy="931.8" r="4.75" fill="#d0d0d0" stroke="#000" stroke-width="0.95"/>
<circle cx="441.3" cy="931.8" r="4.75" fill="#0068b4" stroke="#000" stroke-width="0.95"/>
<circle cx="451.05" cy="931.8" r="4.75" fill="#0068b4" stroke="#000" stroke-width="0.95"/>
<circle cx="378" cy="942.4" r="4.75" fill="#d0d0d0" stroke="#000" stroke-width="0.95"/>
<circle cx="387.75" cy="942.4" r="4.75" fill="#d0d0d0" stroke="#000" stroke-width="0.95"/>
<circle cx="397.5" cy="942.4" r="4.75" fill="#d0d0d0" stroke="#000" stroke-width="0.95"/>
<circle cx="407.25" cy="942.4" r="4.75" fill="#0068b4" stroke="#000" stroke-width="0.95"/>
<circle cx="417" cy="942.4" r="4.75" fill="#d0d0d0" stroke="#000" stroke-width="0.95"/>
<circle cx="426.75" cy="942.4" r="4.75" fill="#0068b4" stroke="#000" stroke-width="0.95"/>
<circle cx="436.5" cy="942.4" r="4.75" fill="#d0d0d0" stroke="#000" stroke-width="0.95"/>
<circle cx="446.25" cy="942.4" r="4.75" fill="#0068b4" stroke="#000" stroke-width="0.95"/>
<circle cx="382.8" cy="953" r="4.75" fill="#d0d0d0" stroke="#000" stroke-width="0.95"/>
<circle cx="392.55" cy="953" r="4.75" fill="#d0d0d0" stroke="#000" stroke-width="0.95"/>
<circle cx="402.3" cy="953" r="4.75" fill="#0068b4" stroke="#000" stroke-width="0.95"/>
<circle cx="412.05" cy="953" r="4.75" fill="#d0d0d0" stroke="#000" stroke-width="0.95"/>
<circle cx="421.8" cy="953" r="4.75" fill="#0068b4" stroke="#000" stroke-width="0.95"/>
<circle cx="431.55" cy="953" r="4.75" fill="#0068b4" stroke="#000" stroke-width="0.95"/>
<circle cx="441.3" cy="953" r="4.75" fill="#d0d0d0" stroke="#000" stroke-width="0.95"/>
<circle cx="451.05" cy="953" r="4.75" fill="#d0d0d0" stroke="#000" stroke-width="0.95"/>
<text x="315.5" y="1046.6" text-anchor="middle" fill="#fff">γ2</text>
<text x="270.9" y="1075.4" text-anchor="middle" fill="#fff">γ1</text>
<text x="384.2" y="1041" text-anchor="middle" fill="#fff">γ4</text>
<text x="420.4" y="1046.6" text-anchor="middle" fill="#fff">β′2</text>
<text x="347.9" y="1126.4" text-anchor="middle" font-style="italic">R15A04-GAL80;</text>
<text x="347.2" y="1152.8" text-anchor="middle" font-style="italic">R48B04-GAL4</text>
<line x1="474.8" y1="851.2" x2="714" y2="851.2" stroke="#000" stroke-width="1.8"/>
<path d="M501.5,851.2 V812.7 H608 V851.2" fill="none" stroke="#000" stroke-width="1.8"/>
<path d="M634.6,851.2 V812.7 H687.8 V851.2" fill="none" stroke="#000" stroke-width="1.8"/>
<line x1="501.5" y1="857.5" x2="608" y2="857.5" stroke="#000" stroke-width="1.8"/>
<text x="551.6" y="771.5" text-anchor="middle">23 ºC</text>
<text x="554.7" y="796.2" text-anchor="middle">starved</text>
<text x="554.7" y="839.8" text-anchor="middle">No odour</text>
<text x="661.2" y="839.8" text-anchor="middle">Test</text>
<text x="661.2" y="753.4" text-anchor="middle">90 V</text>
<text x="661.2" y="778.1" text-anchor="middle">shock</text>
<line x1="661.2" y1="812.7" x2="661.2" y2="801.8" stroke="#000" stroke-width="1.9"/>
<path d="M661.2,790.2 L655,804.7 L661.2,801.08 L667.4,804.7 Z" fill="#000"/>
<line x1="661.2" y1="851.2" x2="661.2" y2="862.6" stroke="#000" stroke-width="1.9"/>
<path d="M661.2,874.2 L655,859.7 L661.2,863.33 L667.4,859.7 Z" fill="#000"/>
<text x="554.7" y="880.5" text-anchor="middle">Red light</text>
<text x="661.2" y="899.1" text-anchor="middle">No</text>
<text x="661.2" y="923.8" text-anchor="middle">shock</text>
<line x1="504.5" y1="934.2" x2="605" y2="934.2" stroke="#000" stroke-width="1.1"/>
<path d="M501.5,934.2 L508.7,931 L506.54,934.2 L508.7,937.4 Z" fill="#000"/>
<path d="M608,934.2 L600.8,931 L602.96,934.2 L600.8,937.4 Z" fill="#000"/>
<line x1="611" y1="934.2" x2="631.6" y2="934.2" stroke="#000" stroke-width="1.1"/>
<path d="M608,934.2 L615.2,931 L613.04,934.2 L615.2,937.4 Z" fill="#000"/>
<path d="M634.6,934.2 L627.4,931 L629.56,934.2 L627.4,937.4 Z" fill="#000"/>
<line x1="637.6" y1="934.2" x2="684.8" y2="934.2" stroke="#000" stroke-width="1.1"/>
<path d="M634.6,934.2 L641.8,931 L639.64,934.2 L641.8,937.4 Z" fill="#000"/>
<path d="M687.8,934.2 L680.6,931 L682.76,934.2 L680.6,937.4 Z" fill="#000"/>
<text x="554.7" y="960.3" text-anchor="middle">120</text>
<text x="620.5" y="960.3" text-anchor="middle">30</text>
<text x="660.7" y="960.3" text-anchor="middle">60</text>
<text x="594" y="987.4" text-anchor="middle" textLength="73.3" lengthAdjust="spacingAndGlyphs">Time (s)</text>
<rect x="826" y="691.1" width="507.2" height="89.8" fill="#e6e7e8"/>
<rect x="853.2" y="780.9" width="29.6" height="113.5" fill="#575756"/>
<rect x="905" y="780.9" width="29.6" height="146.1" fill="#575756"/>
<rect x="976.9" y="780.9" width="29.6" height="110.4" fill="#f29200"/>
<rect x="1028.5" y="780.9" width="29.6" height="46.1" fill="#f29200"/>
<rect x="1100.2" y="780.9" width="29.6" height="126.3" fill="#009966"/>
<rect x="1152.1" y="780.9" width="29.6" height="30.9" fill="#009966"/>
<rect x="1223.7" y="780.9" width="29.6" height="119.5" fill="#3a7fbb"/>
<rect x="1275.3" y="780.9" width="29.6" height="57.9" fill="#3a7fbb"/>
<line x1="826" y1="780.9" x2="1333.2" y2="780.9" stroke="#000" stroke-width="1.8"/>
<line x1="826" y1="691.1" x2="826" y2="1022.25" stroke="#000" stroke-width="1.7"/>
<line x1="819.5" y1="720.8" x2="826" y2="720.8" stroke="#000" stroke-width="1.7"/>
<text x="812.8" y="730.1" text-anchor="end">0.2</text>
<line x1="819.5" y1="780.9" x2="826" y2="780.9" stroke="#000" stroke-width="1.7"/>
<text x="812.8" y="790.2" text-anchor="end">0</text>
<line x1="819.5" y1="841" x2="826" y2="841" stroke="#000" stroke-width="1.7"/>
<text x="812.8" y="850.3" text-anchor="end">–0.2</text>
<line x1="819.5" y1="901.1" x2="826" y2="901.1" stroke="#000" stroke-width="1.7"/>
<text x="812.8" y="910.4" text-anchor="end">–0.4</text>
<line x1="819.5" y1="961.2" x2="826" y2="961.2" stroke="#000" stroke-width="1.7"/>
<text x="812.8" y="970.5" text-anchor="end">–0.6</text>
<line x1="819.5" y1="1021.3" x2="826" y2="1021.3" stroke="#000" stroke-width="1.7"/>
<text x="812.8" y="1030.6" text-anchor="end">–0.8</text>
<text transform="translate(754.3,864) rotate(-90)" text-anchor="middle">Preference index</text>
<text x="1079.2" y="717.4" text-anchor="middle">90 V</text>
<line x1="868.2" y1="683" x2="919.4" y2="683" stroke="#000" stroke-width="2"/>
<text x="893.8" y="676.3" text-anchor="middle">NS</text>
<line x1="991.6" y1="683" x2="1043.5" y2="683" stroke="#000" stroke-width="2"/>
<text x="1017.55" y="679.6" text-anchor="middle" font-size="25">*</text>
<line x1="1114.8" y1="683" x2="1166.4" y2="683" stroke="#000" stroke-width="2"/>
<text x="1140.6" y="679.6" text-anchor="middle" font-size="25">*</text>
<line x1="1238.5" y1="683" x2="1290" y2="683" stroke="#000" stroke-width="2"/>
<text x="1264.25" y="679.6" text-anchor="middle" font-size="25">*</text>
<line x1="868" y1="884.3" x2="868" y2="903.5" stroke="#000" stroke-width="2"/>
<line x1="860.75" y1="884.3" x2="875.25" y2="884.3" stroke="#000" stroke-width="2"/>
<line x1="860.75" y1="903.5" x2="875.25" y2="903.5" stroke="#000" stroke-width="2"/>
<line x1="919.8" y1="920.7" x2="919.8" y2="933.8" stroke="#000" stroke-width="2"/>
<line x1="912.55" y1="920.7" x2="927.05" y2="920.7" stroke="#000" stroke-width="2"/>
<line x1="912.55" y1="933.8" x2="927.05" y2="933.8" stroke="#000" stroke-width="2"/>
<line x1="991.7" y1="876.5" x2="991.7" y2="905.5" stroke="#000" stroke-width="2"/>
<line x1="984.45" y1="876.5" x2="998.95" y2="876.5" stroke="#000" stroke-width="2"/>
<line x1="984.45" y1="905.5" x2="998.95" y2="905.5" stroke="#000" stroke-width="2"/>
<line x1="1043.3" y1="815.8" x2="1043.3" y2="839" stroke="#000" stroke-width="2"/>
<line x1="1036.05" y1="815.8" x2="1050.55" y2="815.8" stroke="#000" stroke-width="2"/>
<line x1="1036.05" y1="839" x2="1050.55" y2="839" stroke="#000" stroke-width="2"/>
<line x1="1115" y1="900.8" x2="1115" y2="913.3" stroke="#000" stroke-width="2"/>
<line x1="1107.75" y1="900.8" x2="1122.25" y2="900.8" stroke="#000" stroke-width="2"/>
<line x1="1107.75" y1="913.3" x2="1122.25" y2="913.3" stroke="#000" stroke-width="2"/>
<line x1="1166.9" y1="799" x2="1166.9" y2="824.3" stroke="#000" stroke-width="2"/>
<line x1="1159.65" y1="799" x2="1174.15" y2="799" stroke="#000" stroke-width="2"/>
<line x1="1159.65" y1="824.3" x2="1174.15" y2="824.3" stroke="#000" stroke-width="2"/>
<line x1="1238.5" y1="886" x2="1238.5" y2="916" stroke="#000" stroke-width="2"/>
<line x1="1231.25" y1="886" x2="1245.75" y2="886" stroke="#000" stroke-width="2"/>
<line x1="1231.25" y1="916" x2="1245.75" y2="916" stroke="#000" stroke-width="2"/>
<line x1="1290.1" y1="828.3" x2="1290.1" y2="848.9" stroke="#000" stroke-width="2"/>
<line x1="1282.85" y1="828.3" x2="1297.35" y2="828.3" stroke="#000" stroke-width="2"/>
<line x1="1282.85" y1="848.9" x2="1297.35" y2="848.9" stroke="#000" stroke-width="2"/>
<circle cx="867.86" cy="825.28" r="3.7" fill="#c0c0c0" stroke="#000" stroke-width="1.1"/>
<circle cx="867.86" cy="848.87" r="3.7" fill="#c0c0c0" stroke="#000" stroke-width="1.1"/>
<circle cx="867.86" cy="869.44" r="3.7" fill="#c0c0c0" stroke="#000" stroke-width="1.1"/>
<circle cx="867.86" cy="888.65" r="3.7" fill="#c0c0c0" stroke="#000" stroke-width="1.1"/>
<circle cx="862.47" cy="897.75" r="3.7" fill="#c0c0c0" stroke="#000" stroke-width="1.1"/>
<circle cx="873.26" cy="895.39" r="3.7" fill="#c0c0c0" stroke="#000" stroke-width="1.1"/>
<circle cx="876.96" cy="912.92" r="3.7" fill="#c0c0c0" stroke="#000" stroke-width="1.1"/>
<circle cx="860.11" cy="917.64" r="3.7" fill="#c0c0c0" stroke="#000" stroke-width="1.1"/>
<circle cx="866.52" cy="917.3" r="3.7" fill="#c0c0c0" stroke="#000" stroke-width="1.1"/>
<circle cx="873.26" cy="916.29" r="3.7" fill="#c0c0c0" stroke="#000" stroke-width="1.1"/>
<circle cx="867.86" cy="947.64" r="3.7" fill="#c0c0c0" stroke="#000" stroke-width="1.1"/>
<circle cx="919.77" cy="893.03" r="3.7" fill="#c0c0c0" stroke="#000" stroke-width="1.1"/>
<circle cx="911.01" cy="908.2" r="3.7" fill="#c0c0c0" stroke="#000" stroke-width="1.1"/>
<circle cx="919.77" cy="910.56" r="3.7" fill="#c0c0c0" stroke="#000" stroke-width="1.1"/>
<circle cx="929.21" cy="907.86" r="3.7" fill="#c0c0c0" stroke="#000" stroke-width="1.1"/>
<circle cx="919.77" cy="917.97" r="3.7" fill="#c0c0c0" stroke="#000" stroke-width="1.1"/>
<circle cx="914.38" cy="924.38" r="3.7" fill="#c0c0c0" stroke="#000" stroke-width="1.1"/>
<circle cx="924.49" cy="929.1" r="3.7" fill="#c0c0c0" stroke="#000" stroke-width="1.1"/>
<circle cx="911.01" cy="933.14" r="3.7" fill="#c0c0c0" stroke="#000" stroke-width="1.1"/>
<circle cx="919.77" cy="933.14" r="3.7" fill="#c0c0c0" stroke="#000" stroke-width="1.1"/>
<circle cx="929.21" cy="935.84" r="3.7" fill="#c0c0c0" stroke="#000" stroke-width="1.1"/>
<circle cx="919.77" cy="946.96" r="3.7" fill="#c0c0c0" stroke="#000" stroke-width="1.1"/>
<circle cx="919.77" cy="977.64" r="3.7" fill="#c0c0c0" stroke="#000" stroke-width="1.1"/>
<circle cx="986.51" cy="830.67" r="3.7" fill="#c0c0c0" stroke="#000" stroke-width="1.1"/>
<circle cx="996.96" cy="832.02" r="3.7" fill="#c0c0c0" stroke="#000" stroke-width="1.1"/>
<circle cx="986.51" cy="859.66" r="3.7" fill="#c0c0c0" stroke="#000" stroke-width="1.1"/>
<circle cx="996.96" cy="857.3" r="3.7" fill="#c0c0c0" stroke="#000" stroke-width="1.1"/>
<circle cx="986.51" cy="870.78" r="3.7" fill="#c0c0c0" stroke="#000" stroke-width="1.1"/>
<circle cx="996.96" cy="875.84" r="3.7" fill="#c0c0c0" stroke="#000" stroke-width="1.1"/>
<circle cx="986.51" cy="893.37" r="3.7" fill="#c0c0c0" stroke="#000" stroke-width="1.1"/>
<circle cx="996.96" cy="887.64" r="3.7" fill="#c0c0c0" stroke="#000" stroke-width="1.1"/>
<circle cx="986.51" cy="910.22" r="3.7" fill="#c0c0c0" stroke="#000" stroke-width="1.1"/>
<circle cx="996.96" cy="905.84" r="3.7" fill="#c0c0c0" stroke="#000" stroke-width="1.1"/>
<circle cx="991.57" cy="965.5" r="3.7" fill="#c0c0c0" stroke="#000" stroke-width="1.1"/>
<circle cx="991.57" cy="1005.61" r="3.7" fill="#c0c0c0" stroke="#000" stroke-width="1.1"/>
<circle cx="1043.48" cy="747.75" r="3.7" fill="#c0c0c0" stroke="#000" stroke-width="1.1"/>
<circle cx="1043.48" cy="780.79" r="3.7" fill="#c0c0c0" stroke="#000" stroke-width="1.1"/>
<circle cx="1043.48" cy="790.22" r="3.7" fill="#c0c0c0" stroke="#000" stroke-width="1.1"/>
<circle cx="1043.48" cy="807.75" r="3.7" fill="#c0c0c0" stroke="#000" stroke-width="1.1"/>
<circle cx="1043.48" cy="815.84" r="3.7" fill="#c0c0c0" stroke="#000" stroke-width="1.1"/>
<circle cx="1043.48" cy="823.93" r="3.7" fill="#c0c0c0" stroke="#000" stroke-width="1.1"/>
<circle cx="1043.48" cy="839.1" r="3.7" fill="#c0c0c0" stroke="#000" stroke-width="1.1"/>
<circle cx="1037.75" cy="850.56" r="3.7" fill="#c0c0c0" stroke="#000" stroke-width="1.1"/>
<circle cx="1048.87" cy="857.3" r="3.7" fill="#c0c0c0" stroke="#000" stroke-width="1.1"/>
<circle cx="1037.75" cy="862.36" r="3.7" fill="#c0c0c0" stroke="#000" stroke-width="1.1"/>
<circle cx="1048.87" cy="864.72" r="3.7" fill="#c0c0c0" stroke="#000" stroke-width="1.1"/>
<circle cx="1043.48" cy="883.93" r="3.7" fill="#c0c0c0" stroke="#000" stroke-width="1.1"/>
<circle cx="1114.83" cy="875.17" r="3.7" fill="#c0c0c0" stroke="#000" stroke-width="1.1"/>
<circle cx="1120.22" cy="882.92" r="3.7" fill="#c0c0c0" stroke="#000" stroke-width="1.1"/>
<circle cx="1106.74" cy="890.33" r="3.7" fill="#c0c0c0" stroke="#000" stroke-width="1.1"/>
<circle cx="1114.83" cy="890.33" r="3.7" fill="#c0c0c0" stroke="#000" stroke-width="1.1"/>
<circle cx="1120.22" cy="895.39" r="3.7" fill="#c0c0c0" stroke="#000" stroke-width="1.1"/>
<circle cx="1114.83" cy="902.81" r="3.7" fill="#c0c0c0" stroke="#000" stroke-width="1.1"/>
<circle cx="1124.27" cy="906.85" r="3.7" fill="#c0c0c0" stroke="#000" stroke-width="1.1"/>
<circle cx="1105.73" cy="912.24" r="3.7" fill="#c0c0c0" stroke="#000" stroke-width="1.1"/>
<circle cx="1114.83" cy="917.97" r="3.7" fill="#c0c0c0" stroke="#000" stroke-width="1.1"/>
<circle cx="1124.27" cy="915.95" r="3.7" fill="#c0c0c0" stroke="#000" stroke-width="1.1"/>
<circle cx="1114.83" cy="937.19" r="3.7" fill="#c0c0c0" stroke="#000" stroke-width="1.1"/>
<circle cx="1114.83" cy="959.1" r="3.7" fill="#c0c0c0" stroke="#000" stroke-width="1.1"/>
<circle cx="1166.74" cy="716.74" r="3.7" fill="#c0c0c0" stroke="#000" stroke-width="1.1"/>
<circle cx="1166.74" cy="773.03" r="3.7" fill="#c0c0c0" stroke="#000" stroke-width="1.1"/>
<circle cx="1161.35" cy="778.09" r="3.7" fill="#c0c0c0" stroke="#000" stroke-width="1.1"/>
<circle cx="1172.13" cy="784.83" r="3.7" fill="#c0c0c0" stroke="#000" stroke-width="1.1"/>
<circle cx="1158.65" cy="815.17" r="3.7" fill="#c0c0c0" stroke="#000" stroke-width="1.1"/>
<circle cx="1166.74" cy="816.85" r="3.7" fill="#c0c0c0" stroke="#000" stroke-width="1.1"/>
<circle cx="1174.83" cy="818.54" r="3.7" fill="#c0c0c0" stroke="#000" stroke-width="1.1"/>
<circle cx="1162.02" cy="830.34" r="3.7" fill="#c0c0c0" stroke="#000" stroke-width="1.1"/>
<circle cx="1170.79" cy="830.34" r="3.7" fill="#c0c0c0" stroke="#000" stroke-width="1.1"/>
<circle cx="1172.13" cy="839.77" r="3.7" fill="#c0c0c0" stroke="#000" stroke-width="1.1"/>
<circle cx="1161.35" cy="866.06" r="3.7" fill="#c0c0c0" stroke="#000" stroke-width="1.1"/>
<circle cx="1172.13" cy="872.47" r="3.7" fill="#c0c0c0" stroke="#000" stroke-width="1.1"/>
<circle cx="1233.14" cy="823.93" r="3.7" fill="#c0c0c0" stroke="#000" stroke-width="1.1"/>
<circle cx="1243.59" cy="838.76" r="3.7" fill="#c0c0c0" stroke="#000" stroke-width="1.1"/>
<circle cx="1238.54" cy="852.58" r="3.7" fill="#c0c0c0" stroke="#000" stroke-width="1.1"/>
<circle cx="1238.54" cy="875.17" r="3.7" fill="#c0c0c0" stroke="#000" stroke-width="1.1"/>
<circle cx="1229.1" cy="898.42" r="3.7" fill="#c0c0c0" stroke="#000" stroke-width="1.1"/>
<circle cx="1238.54" cy="901.12" r="3.7" fill="#c0c0c0" stroke="#000" stroke-width="1.1"/>
<circle cx="1247.64" cy="898.42" r="3.7" fill="#c0c0c0" stroke="#000" stroke-width="1.1"/>
<circle cx="1247.64" cy="907.19" r="3.7" fill="#c0c0c0" stroke="#000" stroke-width="1.1"/>
<circle cx="1238.54" cy="912.24" r="3.7" fill="#c0c0c0" stroke="#000" stroke-width="1.1"/>
<circle cx="1229.1" cy="915.95" r="3.7" fill="#c0c0c0" stroke="#000" stroke-width="1.1"/>
<circle cx="1233.14" cy="989.77" r="3.7" fill="#c0c0c0" stroke="#000" stroke-width="1.1"/>
<circle cx="1243.59" cy="993.48" r="3.7" fill="#c0c0c0" stroke="#000" stroke-width="1.1"/>
<circle cx="1290.11" cy="757.86" r="3.7" fill="#c0c0c0" stroke="#000" stroke-width="1.1"/>
<circle cx="1290.11" cy="799.32" r="3.7" fill="#c0c0c0" stroke="#000" stroke-width="1.1"/>
<circle cx="1286.06" cy="811.12" r="3.7" fill="#c0c0c0" stroke="#000" stroke-width="1.1"/>
<circle cx="1294.49" cy="817.19" r="3.7" fill="#c0c0c0" stroke="#000" stroke-width="1.1"/>
<circle cx="1290.11" cy="837.08" r="3.7" fill="#c0c0c0" stroke="#000" stroke-width="1.1"/>
<circle cx="1281.01" cy="848.87" r="3.7" fill="#c0c0c0" stroke="#000" stroke-width="1.1"/>
<circle cx="1290.11" cy="852.24" r="3.7" fill="#c0c0c0" stroke="#000" stroke-width="1.1"/>
<circle cx="1299.55" cy="853.93" r="3.7" fill="#c0c0c0" stroke="#000" stroke-width="1.1"/>
<circle cx="1285.39" cy="866.4" r="3.7" fill="#c0c0c0" stroke="#000" stroke-width="1.1"/>
<circle cx="1295.5" cy="863.71" r="3.7" fill="#c0c0c0" stroke="#000" stroke-width="1.1"/>
<circle cx="1285.39" cy="876.85" r="3.7" fill="#c0c0c0" stroke="#000" stroke-width="1.1"/>
<circle cx="1295.5" cy="879.55" r="3.7" fill="#c0c0c0" stroke="#000" stroke-width="1.1"/>
<text x="820" y="1073.1" text-anchor="end" font-style="italic">UAS-CsChr ×</text>
<text x="894" y="1057.5" text-anchor="middle" font-style="italic">R15A04-</text>
<text x="894" y="1082.4" text-anchor="middle" font-style="italic">GAL80</text>
<text x="1017.5" y="1057.5" text-anchor="middle" font-style="italic">0273-</text>
<text x="1017.5" y="1082.4" text-anchor="middle" font-style="italic">GAL4</text>
<text x="1140.3" y="1057.5" text-anchor="middle" font-style="italic">R48B04-</text>
<text x="1140.3" y="1082.4" text-anchor="middle" font-style="italic">GAL4</text>
<text x="1264" y="1027.4" text-anchor="middle" font-style="italic">R15A04-</text>
<text x="1264" y="1052.3" text-anchor="middle" font-style="italic">GAL80;</text>
<text x="1264" y="1077.1" text-anchor="middle" font-style="italic">R48B04-</text>
<text x="1264" y="1101" text-anchor="middle" font-style="italic">GAL4</text>
<text x="820.6" y="1144.8" text-anchor="end">Red light</text>
<text x="868" y="1144.9" text-anchor="middle">−</text>
<text x="919.8" y="1144.9" text-anchor="middle">+</text>
<text x="991.7" y="1144.9" text-anchor="middle">−</text>
<text x="1043.3" y="1144.9" text-anchor="middle">+</text>
<text x="1115" y="1144.9" text-anchor="middle">−</text>
<text x="1166.9" y="1144.9" text-anchor="middle">+</text>
<text x="1238.5" y="1144.9" text-anchor="middle">−</text>
<text x="1290.1" y="1144.9" text-anchor="middle">+</text>
<g transform="translate(1460,662) scale(0.18153)">
<path d="M432,150 C437.33,137.5 440.67,110.33 452,95 C463.33,79.67 480.33,66.33 500,58 C519.67,49.67 547.5,45.5 570,45 C592.5,44.5 618.67,45.83 635,55 C651.33,64.17 663.17,84.17 668,100 C672.83,115.83 669.5,135 664,150 C658.5,165 646.5,177.5 635,190 C623.5,202.5 605.83,213.33 595,225 C584.17,236.67 576.17,245.83 570,260 C563.83,274.17 560,291.67 558,310 C556,328.33 558.33,348.33 558,370 C557.67,391.67 557.33,416.67 556,440 C554.67,463.33 552.17,488.33 550,510 C547.83,531.67 545,550 543,570 C541,590 537.67,613.67 538,630 C538.33,646.33 533.67,662.5 545,668 C556.33,673.5 587.17,666.83 606,663 C624.83,659.17 640.5,650.67 658,645 C675.5,639.33 693.5,629.83 711,629 C728.5,628.17 745.67,636.83 763,640 C780.33,643.17 797.5,648.5 815,648 C832.5,647.5 848.67,638.83 868,637 C887.33,635.17 913.5,634.33 931,637 C948.5,639.67 957.33,646 973,653 C988.67,660 1007.67,672 1025,679 C1042.33,686 1059.5,691.5 1077,695 C1094.5,698.5 1116,697 1130,700 C1144,703 1152.33,705.5 1161,713 C1169.67,720.5 1175,730.17 1182,745 C1189,759.83 1196.83,782 1203,802 C1209.17,822 1216.33,845.67 1219,865 C1221.67,884.33 1222.5,901.33 1219,918 C1215.5,934.67 1207.67,951.17 1198,965 C1188.33,978.83 1172,991 1161,1001 C1150,1011 1138.5,1015.5 1132,1025 C1125.5,1034.5 1127.67,1046.17 1122,1058 C1116.33,1069.83 1107.17,1085.33 1098,1096 C1088.83,1106.67 1079.17,1116.83 1067,1122 C1054.83,1127.17 1039,1129.67 1025,1127 C1011,1124.33 997,1115.5 983,1106 C969,1096.5 955,1084 941,1070 C927,1056 913,1035.67 899,1022 C885,1008.33 872.67,996.33 857,988 C841.33,979.67 825,973.83 805,972 C785,970.17 761.5,973.5 737,977 C712.5,980.5 679.83,988 658,993 C636.17,998 625.67,1004.17 606,1007 C586.33,1009.83 562.67,1010.17 540,1010 C517.33,1009.83 488.33,1007 470,1006 C451.67,1005 442.5,1002.17 430,1004 C417.5,1005.83 405.83,1009.83 395,1017 C384.17,1024.17 377.5,1036.17 365,1047 C352.5,1057.83 340.83,1073.67 320,1082 C299.17,1090.33 266.67,1096.17 240,1097 C213.33,1097.83 182.5,1095.33 160,1087 C137.5,1078.67 117.5,1063.17 105,1047 C92.5,1030.83 85.83,1009.5 85,990 C84.17,970.5 89.17,945.83 100,930 C110.83,914.17 128.33,903.67 150,895 C171.67,886.33 207.5,883.83 230,878 C252.5,872.17 269.17,868.83 285,860 C300.83,851.17 313.33,840 325,825 C336.67,810 345.83,789.17 355,770 C364.17,750.83 372.83,730 380,710 C387.17,690 393.5,671.67 398,650 C402.5,628.33 405.83,605 407,580 C408.17,555 406.5,526.67 405,500 C403.5,473.33 401.33,445 398,420 C394.67,395 391,371.67 385,350 C379,328.33 369.5,308.33 362,290 C354.5,271.67 342.83,255.33 340,240 C337.17,224.67 336.67,208 345,198 C353.33,188 377.5,184.67 390,180 C402.5,175.33 413,175 420,170 C427,165 426.67,162.5 432,150 Z" fill="#d8d8d8" stroke="#9b9b9b" stroke-width="5.5"/>
<path d="M653,684 L773,684" fill="none" stroke="#b0b0b0" stroke-width="4.5"/>
<path d="M773,676 C775,760 775,880 773,970" fill="none" stroke="#b0b0b0" stroke-width="4.5"/>
<path d="M653,672 C650,760 650,900 655,988" fill="none" stroke="#b0b0b0" stroke-width="4.5"/>
<path d="M779,700 C780.83,694.17 781.5,672.5 790,665 C798.5,657.5 808.33,655.5 830,655 C851.67,654.5 893.33,657.83 920,662 C946.67,666.17 974.33,672.33 990,680 C1005.67,687.67 1008.17,694.67 1014,708 C1019.83,721.33 1026.67,742.5 1025,760 C1023.33,777.5 1012.83,795.5 1004,813 C995.17,830.5 982.5,847.67 972,865 C961.5,882.33 952.17,899.17 941,917 C929.83,934.83 911,962.83 905,972" fill="none" stroke="#b0b0b0" stroke-width="4.5"/>
<path d="M972.7,723.8 C981.42,721.17 998.78,708 1025,708 C1051.22,708 1103.83,715.07 1130,723.8 C1156.17,732.53 1170.67,741.2 1182,760.4 C1193.33,779.6 1198,812.8 1198,839 C1198,865.2 1193.33,897.52 1182,917.6 C1170.67,937.68 1151.83,949.93 1130,959.5 C1108.17,969.07 1073.73,976.75 1051,975 C1028.27,973.25 1006.65,962.93 993.6,949 C980.55,935.07 977.05,914.1 972.7,891.4 C968.35,868.7 967.5,840.73 967.5,812.8 C967.5,784.87 971.83,738.63 972.7,723.8" fill="none" stroke="#b0b0b0" stroke-width="4.5"/>
<path d="M653,807.6 C671.33,806.67 727.17,801.13 763,802 C798.83,802.87 833.05,808.38 868,812.8 C902.95,817.22 955.25,825.88 972.7,828.5" fill="none" stroke="#b0b0b0" stroke-width="4.5"/>
<path d="M653,836.4 C662.67,835.97 690,833.37 711,833.8 C732,834.23 752.83,833.8 779,839 C805.17,844.2 840.08,856.27 868,865 C895.92,873.73 933.42,887 946.5,891.4" fill="none" stroke="#b0b0b0" stroke-width="4.5"/>
<path d="M946.5,891.4 C950.87,895.77 963.12,900.17 972.7,917.6 C982.28,935.03 986.62,978.6 1004,996 C1021.38,1013.4 1056,1018.5 1077,1022 C1098,1025.5 1121.17,1017.83 1130,1017" fill="none" stroke="#b0b0b0" stroke-width="4.5"/>
<path d="M345,240 C335,200 375,178 410,188 C440,198 455,240 462,290 L470,350 C450,360 430,370 410,380 C390,335 360,290 345,240 Z" fill="#d8d8d8" stroke="#9b9b9b" stroke-width="4.5"/>
<path d="M432,150 C440,88 500,60 570,58 C640,56 668,98 660,150 C650,195 595,220 568,255 C548,285 540,320 542,352 L478,350 C470,300 462,262 448,232 C436,205 430,178 432,150 Z" fill="#e2261c" stroke="#000" stroke-width="6"/>
<path d="M415,400 C418,368 450,355 490,355 C530,353 552,375 550,420 C548,470 545,520 538,560 C530,600 522,630 515,642 L440,645 C425,610 420,570 420,530 C418,480 414,440 415,400 Z" fill="#e2261c" stroke="#000" stroke-width="6"/>
<path d="M362,810 C365,740 395,692 440,685 C490,690 540,700 590,692 L632,685 C642,760 642,860 628,975 C610,995 560,1000 500,998 C430,995 385,960 370,900 C364,870 361,840 362,810 Z" fill="#e2261c" stroke="#000" stroke-width="6"/>
<path d="M98,960 C105,915 175,895 250,895 C325,895 362,935 357,995 C350,1055 295,1085 232,1082 C155,1078 92,1015 98,960 Z" fill="#e2261c" stroke="#000" stroke-width="6"/>
<path d="M195,365 C235,325 300,318 360,308 C400,298 428,270 448,232" fill="none" stroke="#000" stroke-width="6.5"/>
<path d="M362,308 L327.74,329.59 L335.24,313.69 L321.92,302.21 Z" fill="#000"/>
<path d="M180,410 C250,405 330,414 415,412" fill="none" stroke="#000" stroke-width="6.5"/>
<path d="M340,414 L301.53,426.67 L312.66,413.05 L302.51,398.68 Z" fill="#000"/>
<path d="M178,420 C255,440 315,520 338,600 C352,650 362,700 372,742" fill="none" stroke="#000" stroke-width="6.5"/>
<path d="M332,590 L306.94,558.19 L323.55,563.98 L333.57,549.53 Z" fill="#000"/>
<path d="M182,505 C188,600 195,700 185,780 C175,850 160,880 150,910" fill="none" stroke="#000" stroke-width="6.5"/>
<path d="M190,752 L179.37,712.92 L192.38,724.74 L207.26,715.36 Z" fill="#000"/>
<circle cx="115" cy="370" r="27" fill="#d0d0d0" stroke="#000" stroke-width="5.5"/>
<circle cx="170" cy="370" r="27" fill="#e2261c" stroke="#000" stroke-width="5.5"/>
<circle cx="95" cy="427" r="27" fill="#e2261c" stroke="#000" stroke-width="5.5"/>
<circle cx="148" cy="427" r="27" fill="#e2261c" stroke="#000" stroke-width="5.5"/>
<circle cx="115" cy="483" r="27" fill="#d0d0d0" stroke="#000" stroke-width="5.5"/>
<circle cx="170" cy="483" r="27" fill="#e2261c" stroke="#000" stroke-width="5.5"/>
</g>
<text x="1558.3" y="694.3" text-anchor="middle" fill="#fff">α3</text>
<text x="1548" y="747.3" text-anchor="middle" fill="#fff">α2</text>
<text x="1547" y="770" text-anchor="middle" fill="#fff">α′2</text>
<text x="1551.4" y="820" text-anchor="middle" fill="#fff">γ2α′1</text>
<text x="1500" y="847.2" text-anchor="middle" fill="#fff">γ1</text>
<text x="1478.3" y="683.4" text-anchor="middle">PPL1</text>
<text x="1479" y="707.2" text-anchor="middle">cluster</text>
<text x="1576.5" y="890.3" text-anchor="middle" font-style="italic">MB504B-GAL4</text>
<text x="1576.5" y="930.4" text-anchor="middle">23 °C starved</text>
<text x="1576.9" y="966.4" text-anchor="middle">Green light +</text>
<text x="1576.5" y="991.6" text-anchor="middle">90 V shock</text>
<line x1="1577.3" y1="1025.9" x2="1577.3" y2="1014.1" stroke="#000" stroke-width="1.9"/>
<path d="M1577.3,1002.5 L1571.1,1017 L1577.3,1013.38 L1583.5,1017 Z" fill="#000"/>
<line x1="1494.4" y1="1064.1" x2="1660" y2="1064.1" stroke="#000" stroke-width="1.8"/>
<path d="M1517.7,1064.1 V1025.9 H1636.3 V1064.1" fill="none" stroke="#000" stroke-width="1.8"/>
<text x="1576.5" y="1053" text-anchor="middle">Test (60 s)</text>
<line x1="1577.3" y1="1064.1" x2="1577.3" y2="1075.4" stroke="#000" stroke-width="1.9"/>
<path d="M1577.3,1087 L1571.1,1072.5 L1577.3,1076.12 L1583.5,1072.5 Z" fill="#000"/>
<text x="1576.9" y="1112" text-anchor="middle">Green light +</text>
<text x="1576.5" y="1136.8" text-anchor="middle">no shock</text>
<rect x="1861.1" y="691.1" width="260.9" height="89.8" fill="#e6e7e8"/>
<rect x="1889.2" y="780.9" width="29.6" height="158.3" fill="#575756"/>
<rect x="1940.9" y="780.9" width="29.6" height="132.3" fill="#575756"/>
<rect x="2012.7" y="780.9" width="29.6" height="125.3" fill="#e30613"/>
<rect x="2064.2" y="780.9" width="29.6" height="80.4" fill="#e30613"/>
<line x1="1861.1" y1="780.9" x2="2122" y2="780.9" stroke="#000" stroke-width="1.8"/>
<line x1="1861.1" y1="691.1" x2="1861.1" y2="1022.25" stroke="#000" stroke-width="1.7"/>
<line x1="1854.6" y1="720.8" x2="1861.1" y2="720.8" stroke="#000" stroke-width="1.7"/>
<text x="1847.9" y="730.1" text-anchor="end">0.2</text>
<line x1="1854.6" y1="780.9" x2="1861.1" y2="780.9" stroke="#000" stroke-width="1.7"/>
<text x="1847.9" y="790.2" text-anchor="end">0</text>
<line x1="1854.6" y1="841" x2="1861.1" y2="841" stroke="#000" stroke-width="1.7"/>
<text x="1847.9" y="850.3" text-anchor="end">–0.2</text>
<line x1="1854.6" y1="901.1" x2="1861.1" y2="901.1" stroke="#000" stroke-width="1.7"/>
<text x="1847.9" y="910.4" text-anchor="end">–0.4</text>
<line x1="1854.6" y1="961.2" x2="1861.1" y2="961.2" stroke="#000" stroke-width="1.7"/>
<text x="1847.9" y="970.5" text-anchor="end">–0.6</text>
<line x1="1854.6" y1="1021.3" x2="1861.1" y2="1021.3" stroke="#000" stroke-width="1.7"/>
<text x="1847.9" y="1030.6" text-anchor="end">–0.8</text>
<text transform="translate(1790.3,856.4) rotate(-90)" text-anchor="middle">Preference index</text>
<text x="1990.9" y="717.4" text-anchor="middle">90 V</text>
<line x1="1904.3" y1="683" x2="1955.5" y2="683" stroke="#000" stroke-width="2"/>
<text x="1929.9" y="676.3" text-anchor="middle">NS</text>
<line x1="2027.3" y1="683" x2="2078.8" y2="683" stroke="#000" stroke-width="2"/>
<text x="2053.05" y="679.6" text-anchor="middle" font-size="25">*</text>
<line x1="1904" y1="925.7" x2="1904" y2="952.3" stroke="#000" stroke-width="2"/>
<line x1="1896.75" y1="925.7" x2="1911.25" y2="925.7" stroke="#000" stroke-width="2"/>
<line x1="1896.75" y1="952.3" x2="1911.25" y2="952.3" stroke="#000" stroke-width="2"/>
<line x1="1955.7" y1="902.5" x2="1955.7" y2="923.7" stroke="#000" stroke-width="2"/>
<line x1="1948.45" y1="902.5" x2="1962.95" y2="902.5" stroke="#000" stroke-width="2"/>
<line x1="1948.45" y1="923.7" x2="1962.95" y2="923.7" stroke="#000" stroke-width="2"/>
<line x1="2027.5" y1="893.7" x2="2027.5" y2="918" stroke="#000" stroke-width="2"/>
<line x1="2020.25" y1="893.7" x2="2034.75" y2="893.7" stroke="#000" stroke-width="2"/>
<line x1="2020.25" y1="918" x2="2034.75" y2="918" stroke="#000" stroke-width="2"/>
<line x1="2079" y1="846.2" x2="2079" y2="875.8" stroke="#000" stroke-width="2"/>
<line x1="2071.75" y1="846.2" x2="2086.25" y2="846.2" stroke="#000" stroke-width="2"/>
<line x1="2071.75" y1="875.8" x2="2086.25" y2="875.8" stroke="#000" stroke-width="2"/>
<circle cx="1903.92" cy="832.68" r="3.7" fill="#c0c0c0" stroke="#000" stroke-width="1.1"/>
<circle cx="1903.92" cy="867.4" r="3.7" fill="#c0c0c0" stroke="#000" stroke-width="1.1"/>
<circle cx="1903.92" cy="876.84" r="3.7" fill="#c0c0c0" stroke="#000" stroke-width="1.1"/>
<circle cx="1903.92" cy="889.64" r="3.7" fill="#c0c0c0" stroke="#000" stroke-width="1.1"/>
<circle cx="1903.92" cy="901.78" r="3.7" fill="#c0c0c0" stroke="#000" stroke-width="1.1"/>
<circle cx="1903.92" cy="913.91" r="3.7" fill="#c0c0c0" stroke="#000" stroke-width="1.1"/>
<circle cx="1903.92" cy="931.44" r="3.7" fill="#c0c0c0" stroke="#000" stroke-width="1.1"/>
<circle cx="1903.92" cy="945.26" r="3.7" fill="#c0c0c0" stroke="#000" stroke-width="1.1"/>
<circle cx="1899.88" cy="958.4" r="3.7" fill="#c0c0c0" stroke="#000" stroke-width="1.1"/>
<circle cx="1907.63" cy="967.17" r="3.7" fill="#c0c0c0" stroke="#000" stroke-width="1.1"/>
<circle cx="1895.49" cy="983.68" r="3.7" fill="#c0c0c0" stroke="#000" stroke-width="1.1"/>
<circle cx="1903.92" cy="978.63" r="3.7" fill="#c0c0c0" stroke="#000" stroke-width="1.1"/>
<circle cx="1912.35" cy="976.94" r="3.7" fill="#c0c0c0" stroke="#000" stroke-width="1.1"/>
<circle cx="1899.88" cy="994.47" r="3.7" fill="#c0c0c0" stroke="#000" stroke-width="1.1"/>
<circle cx="1907.63" cy="988.74" r="3.7" fill="#c0c0c0" stroke="#000" stroke-width="1.1"/>
<circle cx="1903.92" cy="1019.07" r="3.7" fill="#c0c0c0" stroke="#000" stroke-width="1.1"/>
<circle cx="1959.87" cy="847.85" r="3.7" fill="#c0c0c0" stroke="#000" stroke-width="1.1"/>
<circle cx="1951.45" cy="856.28" r="3.7" fill="#c0c0c0" stroke="#000" stroke-width="1.1"/>
<circle cx="1955.49" cy="869.76" r="3.7" fill="#c0c0c0" stroke="#000" stroke-width="1.1"/>
<circle cx="1959.87" cy="878.86" r="3.7" fill="#c0c0c0" stroke="#000" stroke-width="1.1"/>
<circle cx="1951.45" cy="887.28" r="3.7" fill="#c0c0c0" stroke="#000" stroke-width="1.1"/>
<circle cx="1959.87" cy="889.64" r="3.7" fill="#c0c0c0" stroke="#000" stroke-width="1.1"/>
<circle cx="1951.45" cy="895.04" r="3.7" fill="#c0c0c0" stroke="#000" stroke-width="1.1"/>
<circle cx="1959.87" cy="899.76" r="3.7" fill="#c0c0c0" stroke="#000" stroke-width="1.1"/>
<circle cx="1955.49" cy="910.2" r="3.7" fill="#c0c0c0" stroke="#000" stroke-width="1.1"/>
<circle cx="1947.4" cy="937.51" r="3.7" fill="#c0c0c0" stroke="#000" stroke-width="1.1"/>
<circle cx="1963.92" cy="938.18" r="3.7" fill="#c0c0c0" stroke="#000" stroke-width="1.1"/>
<circle cx="1955.49" cy="943.57" r="3.7" fill="#c0c0c0" stroke="#000" stroke-width="1.1"/>
<circle cx="1963.92" cy="947.28" r="3.7" fill="#c0c0c0" stroke="#000" stroke-width="1.1"/>
<circle cx="1951.45" cy="954.7" r="3.7" fill="#c0c0c0" stroke="#000" stroke-width="1.1"/>
<circle cx="1959.87" cy="959.41" r="3.7" fill="#c0c0c0" stroke="#000" stroke-width="1.1"/>
<circle cx="1955.49" cy="1000.53" r="3.7" fill="#c0c0c0" stroke="#000" stroke-width="1.1"/>
<circle cx="2027.28" cy="829.31" r="3.7" fill="#c0c0c0" stroke="#000" stroke-width="1.1"/>
<circle cx="2023.24" cy="847.51" r="3.7" fill="#c0c0c0" stroke="#000" stroke-width="1.1"/>
<circle cx="2030.99" cy="841.11" r="3.7" fill="#c0c0c0" stroke="#000" stroke-width="1.1"/>
<circle cx="2027.28" cy="863.02" r="3.7" fill="#c0c0c0" stroke="#000" stroke-width="1.1"/>
<circle cx="2027.28" cy="872.12" r="3.7" fill="#c0c0c0" stroke="#000" stroke-width="1.1"/>
<circle cx="2027.28" cy="895.04" r="3.7" fill="#c0c0c0" stroke="#000" stroke-width="1.1"/>
<circle cx="2023.24" cy="905.15" r="3.7" fill="#c0c0c0" stroke="#000" stroke-width="1.1"/>
<circle cx="2035.71" cy="900.09" r="3.7" fill="#c0c0c0" stroke="#000" stroke-width="1.1"/>
<circle cx="2018.18" cy="908.52" r="3.7" fill="#c0c0c0" stroke="#000" stroke-width="1.1"/>
<circle cx="2027.28" cy="908.18" r="3.7" fill="#c0c0c0" stroke="#000" stroke-width="1.1"/>
<circle cx="2035.71" cy="910.54" r="3.7" fill="#c0c0c0" stroke="#000" stroke-width="1.1"/>
<circle cx="2018.86" cy="951.66" r="3.7" fill="#c0c0c0" stroke="#000" stroke-width="1.1"/>
<circle cx="2027.28" cy="946.94" r="3.7" fill="#c0c0c0" stroke="#000" stroke-width="1.1"/>
<circle cx="2035.71" cy="950.99" r="3.7" fill="#c0c0c0" stroke="#000" stroke-width="1.1"/>
<circle cx="2027.28" cy="967.5" r="3.7" fill="#c0c0c0" stroke="#000" stroke-width="1.1"/>
<circle cx="2027.28" cy="998.85" r="3.7" fill="#c0c0c0" stroke="#000" stroke-width="1.1"/>
<circle cx="2078.85" cy="769.99" r="3.7" fill="#c0c0c0" stroke="#000" stroke-width="1.1"/>
<circle cx="2078.85" cy="796.28" r="3.7" fill="#c0c0c0" stroke="#000" stroke-width="1.1"/>
<circle cx="2078.85" cy="804.03" r="3.7" fill="#c0c0c0" stroke="#000" stroke-width="1.1"/>
<circle cx="2075.14" cy="820.55" r="3.7" fill="#c0c0c0" stroke="#000" stroke-width="1.1"/>
<circle cx="2082.9" cy="818.86" r="3.7" fill="#c0c0c0" stroke="#000" stroke-width="1.1"/>
<circle cx="2070.43" cy="826.62" r="3.7" fill="#c0c0c0" stroke="#000" stroke-width="1.1"/>
<circle cx="2078.85" cy="828.97" r="3.7" fill="#c0c0c0" stroke="#000" stroke-width="1.1"/>
<circle cx="2086.6" cy="826.28" r="3.7" fill="#c0c0c0" stroke="#000" stroke-width="1.1"/>
<circle cx="2078.85" cy="842.46" r="3.7" fill="#c0c0c0" stroke="#000" stroke-width="1.1"/>
<circle cx="2078.85" cy="888.63" r="3.7" fill="#c0c0c0" stroke="#000" stroke-width="1.1"/>
<circle cx="2070.43" cy="900.09" r="3.7" fill="#c0c0c0" stroke="#000" stroke-width="1.1"/>
<circle cx="2078.85" cy="900.43" r="3.7" fill="#c0c0c0" stroke="#000" stroke-width="1.1"/>
<circle cx="2086.6" cy="896.39" r="3.7" fill="#c0c0c0" stroke="#000" stroke-width="1.1"/>
<circle cx="2078.85" cy="931.1" r="3.7" fill="#c0c0c0" stroke="#000" stroke-width="1.1"/>
<circle cx="2078.85" cy="948.63" r="3.7" fill="#c0c0c0" stroke="#000" stroke-width="1.1"/>
<circle cx="2078.85" cy="976.27" r="3.7" fill="#c0c0c0" stroke="#000" stroke-width="1.1"/>
<text x="1855.1" y="1062" text-anchor="end" font-style="italic">MB504B-GAL4</text>
<rect x="1898.5" y="1052.4" width="10.8" height="2.1" fill="#000"/>
<rect x="1950.2" y="1052.4" width="10.8" height="2.1" fill="#000"/>
<circle cx="2027.2" cy="1053.4" r="13.9" fill="#e30613"/>
<circle cx="2078.9" cy="1053.4" r="13.9" fill="#e30613"/>
<text x="1855.1" y="1100.2" text-anchor="end" font-style="italic">UAS-GtACR1</text>
<circle cx="1903.9" cy="1091.6" r="13.9" fill="#575756"/>
<circle cx="1955.6" cy="1091.6" r="13.9" fill="#575756"/>
<circle cx="2027.2" cy="1091.6" r="13.9" fill="#e30613"/>
<circle cx="2078.9" cy="1091.6" r="13.9" fill="#e30613"/>
<text x="1856.1" y="1139.3" text-anchor="end">Green light</text>
<text x="1903.9" y="1140.6" text-anchor="middle">−</text>
<text x="1955.6" y="1140.6" text-anchor="middle">+</text>
<text x="2027.2" y="1140.6" text-anchor="middle">−</text>
<text x="2078.9" y="1140.6" text-anchor="middle">+</text>
</svg>
</body></html>
